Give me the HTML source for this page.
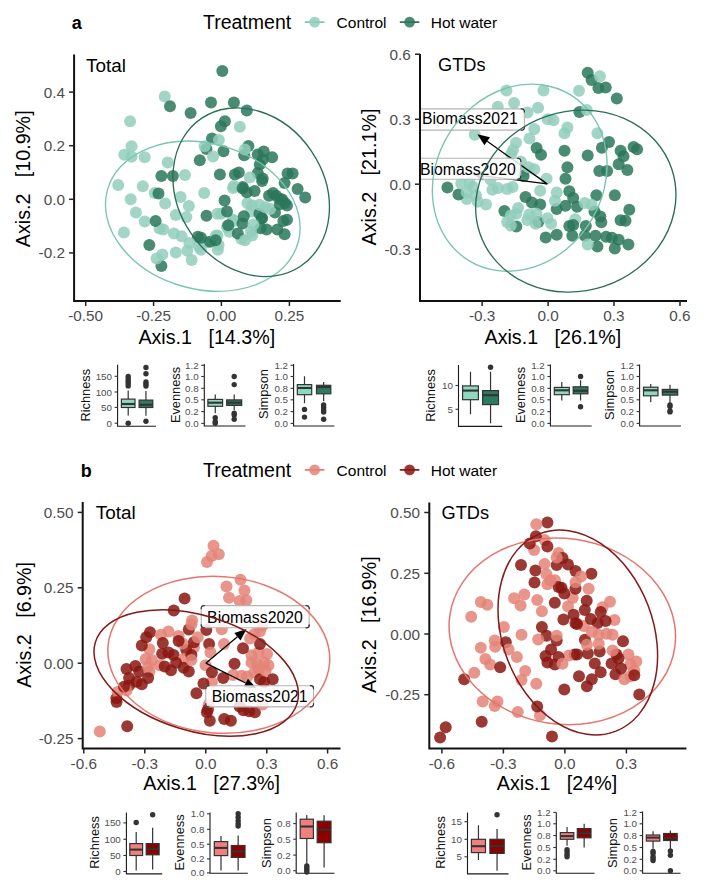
<!DOCTYPE html><html><head><meta charset="utf-8"><style>html,body{margin:0;padding:0;background:#fff;}svg{display:block;}</style></head><body><svg width="708" height="891" viewBox="0 0 708 891" font-family='"Liberation Sans", sans-serif'>
<rect width="708" height="891" fill="#fff"/>
<defs><clipPath id="c1"><rect x="75" y="40" width="266" height="260"/></clipPath><clipPath id="c2"><rect x="421" y="40" width="266" height="260"/></clipPath><clipPath id="c3"><rect x="84" y="490" width="257" height="257"/></clipPath><clipPath id="c4"><rect x="430" y="490" width="257" height="257"/></clipPath></defs>
<text x="71.8" y="29.0" font-size="18" text-anchor="start" fill="#000" font-weight="bold">a</text>
<text x="203.0" y="29.0" font-size="19.5" text-anchor="start" fill="#000" font-weight="normal">Treatment</text>
<path d="M304.8 22.1 H324.40000000000003" stroke="#78c6b0" stroke-width="1.7"/>
<circle cx="314.6" cy="22.1" r="5.4" fill="#92cebc" fill-opacity="0.85"/>
<path d="M399.8 22.1 H419.40000000000003" stroke="#2a6e57" stroke-width="1.7"/>
<circle cx="409.6" cy="22.1" r="5.4" fill="#2a775b" fill-opacity="0.85"/>
<text x="336.6" y="28.0" font-size="15.5" text-anchor="start" fill="#000" font-weight="normal">Control</text>
<text x="430.8" y="28.0" font-size="15.5" text-anchor="start" fill="#000" font-weight="normal">Hot water</text>
<text x="80.8" y="477.0" font-size="18" text-anchor="start" fill="#000" font-weight="bold">b</text>
<text x="203.0" y="476.8" font-size="19.5" text-anchor="start" fill="#000" font-weight="normal">Treatment</text>
<path d="M304.8 469.90000000000003 H324.40000000000003" stroke="#e6766d" stroke-width="1.7"/>
<circle cx="314.6" cy="469.90000000000003" r="5.4" fill="#e48478" fill-opacity="0.85"/>
<path d="M399.8 469.90000000000003 H419.40000000000003" stroke="#851818" stroke-width="1.7"/>
<circle cx="409.6" cy="469.90000000000003" r="5.4" fill="#8a1810" fill-opacity="0.85"/>
<text x="336.6" y="475.8" font-size="15.5" text-anchor="start" fill="#000" font-weight="normal">Control</text>
<text x="430.8" y="475.8" font-size="15.5" text-anchor="start" fill="#000" font-weight="normal">Hot water</text>
<g clip-path="url(#c1)">
<circle cx="275.0" cy="212.6" r="6.0" fill="#2a775b" fill-opacity="0.85"/>
<circle cx="154.7" cy="193" r="6.0" fill="#92cebc" fill-opacity="0.85"/>
<circle cx="124.3" cy="154.8" r="6.0" fill="#92cebc" fill-opacity="0.85"/>
<circle cx="158.5" cy="193.4" r="6.0" fill="#2a775b" fill-opacity="0.85"/>
<circle cx="161.4" cy="266" r="6.0" fill="#2a775b" fill-opacity="0.85"/>
<circle cx="252.2" cy="205.4" r="6.0" fill="#92cebc" fill-opacity="0.85"/>
<circle cx="233.0" cy="188.0" r="6.0" fill="#92cebc" fill-opacity="0.85"/>
<circle cx="282.2" cy="199.4" r="6.0" fill="#2a775b" fill-opacity="0.85"/>
<circle cx="262" cy="218" r="6.0" fill="#2a775b" fill-opacity="0.85"/>
<circle cx="144.7" cy="221.5" r="6.0" fill="#92cebc" fill-opacity="0.85"/>
<circle cx="206.5" cy="215.7" r="6.0" fill="#2a775b" fill-opacity="0.85"/>
<circle cx="259.8" cy="164.5" r="6.0" fill="#2a775b" fill-opacity="0.85"/>
<circle cx="252.2" cy="235.4" r="6.0" fill="#92cebc" fill-opacity="0.85"/>
<circle cx="234.2" cy="221.0" r="6.0" fill="#92cebc" fill-opacity="0.85"/>
<circle cx="164.7" cy="96.6" r="6.0" fill="#92cebc" fill-opacity="0.85"/>
<circle cx="217.4" cy="235.4" r="6.0" fill="#92cebc" fill-opacity="0.85"/>
<circle cx="248.4" cy="146" r="6.0" fill="#2a775b" fill-opacity="0.85"/>
<circle cx="257.8" cy="154.6" r="6.0" fill="#2a775b" fill-opacity="0.85"/>
<circle cx="118.2" cy="185" r="6.0" fill="#92cebc" fill-opacity="0.85"/>
<circle cx="161.4" cy="176" r="6.0" fill="#2a775b" fill-opacity="0.85"/>
<circle cx="241.4" cy="239.0" r="6.0" fill="#92cebc" fill-opacity="0.85"/>
<circle cx="217.9" cy="249.7" r="6.0" fill="#92cebc" fill-opacity="0.85"/>
<circle cx="130.1" cy="121.2" r="6.0" fill="#92cebc" fill-opacity="0.85"/>
<circle cx="218.6" cy="245.0" r="6.0" fill="#92cebc" fill-opacity="0.85"/>
<circle cx="175.8" cy="252.6" r="6.0" fill="#92cebc" fill-opacity="0.85"/>
<circle cx="287.6" cy="173.5" r="6.0" fill="#2a775b" fill-opacity="0.85"/>
<circle cx="206.5" cy="149" r="6.0" fill="#2a775b" fill-opacity="0.85"/>
<circle cx="212" cy="138.6" r="6.0" fill="#2a775b" fill-opacity="0.85"/>
<circle cx="261.8" cy="218.6" r="6.0" fill="#2a775b" fill-opacity="0.85"/>
<circle cx="234.9" cy="174.5" r="6.0" fill="#2a775b" fill-opacity="0.85"/>
<circle cx="251.0" cy="211.4" r="6.0" fill="#92cebc" fill-opacity="0.85"/>
<circle cx="173.9" cy="233.4" r="6.0" fill="#92cebc" fill-opacity="0.85"/>
<circle cx="223.5" cy="151.2" r="6.0" fill="#2a775b" fill-opacity="0.85"/>
<circle cx="135.9" cy="212.6" r="6.0" fill="#92cebc" fill-opacity="0.85"/>
<circle cx="201" cy="249.7" r="6.0" fill="#92cebc" fill-opacity="0.85"/>
<circle cx="188.9" cy="206.1" r="6.0" fill="#92cebc" fill-opacity="0.85"/>
<circle cx="162.4" cy="254.5" r="6.0" fill="#92cebc" fill-opacity="0.85"/>
<circle cx="244.2" cy="155.2" r="6.0" fill="#2a775b" fill-opacity="0.85"/>
<circle cx="131.6" cy="146.2" r="6.0" fill="#92cebc" fill-opacity="0.85"/>
<circle cx="233.0" cy="219.8" r="6.0" fill="#92cebc" fill-opacity="0.85"/>
<circle cx="262.7" cy="178.5" r="6.0" fill="#2a775b" fill-opacity="0.85"/>
<circle cx="239.8" cy="126.7" r="6.0" fill="#92cebc" fill-opacity="0.85"/>
<circle cx="270.2" cy="209.0" r="6.0" fill="#92cebc" fill-opacity="0.85"/>
<circle cx="218.9" cy="140" r="6.0" fill="#92cebc" fill-opacity="0.85"/>
<circle cx="262.7" cy="159.6" r="6.0" fill="#2a775b" fill-opacity="0.85"/>
<circle cx="206.5" cy="242" r="6.0" fill="#92cebc" fill-opacity="0.85"/>
<circle cx="210" cy="241.7" r="6.0" fill="#2a775b" fill-opacity="0.85"/>
<circle cx="279.8" cy="204.2" r="6.0" fill="#2a775b" fill-opacity="0.85"/>
<circle cx="283.4" cy="221.0" r="6.0" fill="#2a775b" fill-opacity="0.85"/>
<circle cx="292.6" cy="173.5" r="6.0" fill="#2a775b" fill-opacity="0.85"/>
<circle cx="149.3" cy="244.9" r="6.0" fill="#2a775b" fill-opacity="0.85"/>
<circle cx="199.8" cy="160.2" r="6.0" fill="#2a775b" fill-opacity="0.85"/>
<circle cx="204.2" cy="193" r="6.0" fill="#92cebc" fill-opacity="0.85"/>
<circle cx="219.9" cy="174.5" r="6.0" fill="#2a775b" fill-opacity="0.85"/>
<circle cx="198.9" cy="246.8" r="6.0" fill="#92cebc" fill-opacity="0.85"/>
<circle cx="180.6" cy="196.9" r="6.0" fill="#92cebc" fill-opacity="0.85"/>
<circle cx="156.6" cy="258.4" r="6.0" fill="#92cebc" fill-opacity="0.85"/>
<circle cx="197.9" cy="236.8" r="6.0" fill="#2a775b" fill-opacity="0.85"/>
<circle cx="257.8" cy="173.1" r="6.0" fill="#2a775b" fill-opacity="0.85"/>
<circle cx="221.0" cy="213.8" r="6.0" fill="#92cebc" fill-opacity="0.85"/>
<circle cx="247.4" cy="203.0" r="6.0" fill="#92cebc" fill-opacity="0.85"/>
<circle cx="259.4" cy="213.8" r="6.0" fill="#2a775b" fill-opacity="0.85"/>
<circle cx="262.1" cy="181" r="6.0" fill="#2a775b" fill-opacity="0.85"/>
<circle cx="189.3" cy="243" r="6.0" fill="#92cebc" fill-opacity="0.85"/>
<circle cx="285" cy="203" r="6.0" fill="#2a775b" fill-opacity="0.85"/>
<circle cx="266.6" cy="229.4" r="6.0" fill="#2a775b" fill-opacity="0.85"/>
<circle cx="229.4" cy="231.8" r="6.0" fill="#92cebc" fill-opacity="0.85"/>
<circle cx="227.0" cy="227.0" r="6.0" fill="#92cebc" fill-opacity="0.85"/>
<circle cx="215.9" cy="235.7" r="6.0" fill="#92cebc" fill-opacity="0.85"/>
<circle cx="243.8" cy="216.2" r="6.0" fill="#2a775b" fill-opacity="0.85"/>
<circle cx="237.8" cy="233.6" r="6.0" fill="#2a775b" fill-opacity="0.85"/>
<circle cx="170.0" cy="106.2" r="6.0" fill="#2a775b" fill-opacity="0.85"/>
<circle cx="159.5" cy="228.6" r="6.0" fill="#92cebc" fill-opacity="0.85"/>
<circle cx="297.6" cy="188.9" r="6.0" fill="#2a775b" fill-opacity="0.85"/>
<circle cx="254.6" cy="191.0" r="6.0" fill="#2a775b" fill-opacity="0.85"/>
<circle cx="269.0" cy="195.8" r="6.0" fill="#2a775b" fill-opacity="0.85"/>
<circle cx="242.6" cy="223.4" r="6.0" fill="#2a775b" fill-opacity="0.85"/>
<circle cx="260.6" cy="228.2" r="6.0" fill="#2a775b" fill-opacity="0.85"/>
<circle cx="265.4" cy="207.2" r="6.0" fill="#92cebc" fill-opacity="0.85"/>
<circle cx="186.4" cy="217.1" r="6.0" fill="#92cebc" fill-opacity="0.85"/>
<circle cx="238.8" cy="172.5" r="6.0" fill="#2a775b" fill-opacity="0.85"/>
<circle cx="242.8" cy="186.9" r="6.0" fill="#2a775b" fill-opacity="0.85"/>
<circle cx="249.8" cy="177.5" r="6.0" fill="#92cebc" fill-opacity="0.85"/>
<circle cx="175.8" cy="215.1" r="6.0" fill="#92cebc" fill-opacity="0.85"/>
<circle cx="155.6" cy="220.9" r="6.0" fill="#2a775b" fill-opacity="0.85"/>
<circle cx="233.9" cy="185.9" r="6.0" fill="#92cebc" fill-opacity="0.85"/>
<circle cx="284.6" cy="183" r="6.0" fill="#2a775b" fill-opacity="0.85"/>
<circle cx="224.6" cy="200.6" r="6.0" fill="#2a775b" fill-opacity="0.85"/>
<circle cx="222.3" cy="70.9" r="6.0" fill="#2a775b" fill-opacity="0.85"/>
<circle cx="215.6" cy="240.2" r="6.0" fill="#2a775b" fill-opacity="0.85"/>
<circle cx="276.2" cy="195.8" r="6.0" fill="#2a775b" fill-opacity="0.85"/>
<circle cx="191.6" cy="259.9" r="6.0" fill="#92cebc" fill-opacity="0.85"/>
<circle cx="130.7" cy="199.2" r="6.0" fill="#92cebc" fill-opacity="0.85"/>
<circle cx="233.9" cy="102.4" r="6.0" fill="#2a775b" fill-opacity="0.85"/>
<circle cx="144.7" cy="157.3" r="6.0" fill="#92cebc" fill-opacity="0.85"/>
<circle cx="242.6" cy="188.6" r="6.0" fill="#2a775b" fill-opacity="0.85"/>
<circle cx="167.7" cy="162.5" r="6.0" fill="#92cebc" fill-opacity="0.85"/>
<circle cx="217.4" cy="213.8" r="6.0" fill="#92cebc" fill-opacity="0.85"/>
<circle cx="280" cy="199" r="6.0" fill="#2a775b" fill-opacity="0.85"/>
<circle cx="224.9" cy="121.3" r="6.0" fill="#2a775b" fill-opacity="0.85"/>
<circle cx="227.0" cy="211.4" r="6.0" fill="#2a775b" fill-opacity="0.85"/>
<circle cx="284.6" cy="234.2" r="6.0" fill="#2a775b" fill-opacity="0.85"/>
<circle cx="201" cy="237.7" r="6.0" fill="#2a775b" fill-opacity="0.85"/>
<circle cx="263.7" cy="151.6" r="6.0" fill="#2a775b" fill-opacity="0.85"/>
<circle cx="123.9" cy="232.4" r="6.0" fill="#92cebc" fill-opacity="0.85"/>
<circle cx="142.8" cy="186.3" r="6.0" fill="#92cebc" fill-opacity="0.85"/>
<circle cx="246.8" cy="110.4" r="6.0" fill="#2a775b" fill-opacity="0.85"/>
<circle cx="228.2" cy="225.2" r="6.0" fill="#2a775b" fill-opacity="0.85"/>
<circle cx="277.4" cy="229.4" r="6.0" fill="#2a775b" fill-opacity="0.85"/>
<circle cx="251.0" cy="231.8" r="6.0" fill="#92cebc" fill-opacity="0.85"/>
<circle cx="211" cy="102.4" r="6.0" fill="#2a775b" fill-opacity="0.85"/>
<circle cx="287.0" cy="219.8" r="6.0" fill="#2a775b" fill-opacity="0.85"/>
<circle cx="181.6" cy="236.3" r="6.0" fill="#92cebc" fill-opacity="0.85"/>
<circle cx="185" cy="175" r="6.0" fill="#92cebc" fill-opacity="0.85"/>
<circle cx="253.4" cy="224.6" r="6.0" fill="#92cebc" fill-opacity="0.85"/>
<circle cx="245.0" cy="240.2" r="6.0" fill="#92cebc" fill-opacity="0.85"/>
<circle cx="213" cy="156.6" r="6.0" fill="#92cebc" fill-opacity="0.85"/>
<circle cx="131.6" cy="156.8" r="6.0" fill="#92cebc" fill-opacity="0.85"/>
<circle cx="163.3" cy="229.5" r="6.0" fill="#92cebc" fill-opacity="0.85"/>
<circle cx="190.6" cy="113.0" r="6.0" fill="#2a775b" fill-opacity="0.85"/>
<circle cx="287.0" cy="205.4" r="6.0" fill="#2a775b" fill-opacity="0.85"/>
<circle cx="204.6" cy="146.2" r="6.0" fill="#92cebc" fill-opacity="0.85"/>
<circle cx="220.9" cy="126.3" r="6.0" fill="#2a775b" fill-opacity="0.85"/>
<circle cx="259.4" cy="204.8" r="6.0" fill="#92cebc" fill-opacity="0.85"/>
<circle cx="273" cy="193" r="6.0" fill="#2a775b" fill-opacity="0.85"/>
<circle cx="172.9" cy="176" r="6.0" fill="#2a775b" fill-opacity="0.85"/>
<circle cx="246.8" cy="192.2" r="6.0" fill="#2a775b" fill-opacity="0.85"/>
<circle cx="165.2" cy="203.6" r="6.0" fill="#92cebc" fill-opacity="0.85"/>
<circle cx="244.8" cy="149.6" r="6.0" fill="#92cebc" fill-opacity="0.85"/>
<circle cx="305.2" cy="197.5" r="6.0" fill="#2a775b" fill-opacity="0.85"/>
<circle cx="187.3" cy="250.7" r="6.0" fill="#92cebc" fill-opacity="0.85"/>
<circle cx="272.1" cy="157.2" r="6.0" fill="#2a775b" fill-opacity="0.85"/>
</g>
<path d="M74.1 54.5 V301.0 H340.7" fill="none" stroke="#111" stroke-width="2.0"/>
<path d="M69.1 92.1 H74.1" stroke="#222" stroke-width="1.5"/>
<text x="64.89999999999999" y="97.61" font-size="15.3" text-anchor="end" fill="#4d4d4d" font-weight="normal">0.4</text>
<path d="M69.1 145.7 H74.1" stroke="#222" stroke-width="1.5"/>
<text x="64.89999999999999" y="151.21" font-size="15.3" text-anchor="end" fill="#4d4d4d" font-weight="normal">0.2</text>
<path d="M69.1 199.3 H74.1" stroke="#222" stroke-width="1.5"/>
<text x="64.89999999999999" y="204.81" font-size="15.3" text-anchor="end" fill="#4d4d4d" font-weight="normal">0.0</text>
<path d="M69.1 252.9 H74.1" stroke="#222" stroke-width="1.5"/>
<text x="64.89999999999999" y="258.41" font-size="15.3" text-anchor="end" fill="#4d4d4d" font-weight="normal">-0.2</text>
<path d="M85.7 301.0 V306.0" stroke="#222" stroke-width="1.5"/>
<text x="85.7" y="320.8" font-size="15.3" text-anchor="middle" fill="#4d4d4d" font-weight="normal">-0.50</text>
<path d="M153.6 301.0 V306.0" stroke="#222" stroke-width="1.5"/>
<text x="153.6" y="320.8" font-size="15.3" text-anchor="middle" fill="#4d4d4d" font-weight="normal">-0.25</text>
<path d="M221.4 301.0 V306.0" stroke="#222" stroke-width="1.5"/>
<text x="221.4" y="320.8" font-size="15.3" text-anchor="middle" fill="#4d4d4d" font-weight="normal">0.00</text>
<path d="M289.4 301.0 V306.0" stroke="#222" stroke-width="1.5"/>
<text x="289.4" y="320.8" font-size="15.3" text-anchor="middle" fill="#4d4d4d" font-weight="normal">0.25</text>
<text x="86.0" y="71.7" font-size="18.9" text-anchor="start" fill="#000" font-weight="normal">Total</text>
<text x="206.8" y="344.2" font-size="19.7" text-anchor="middle" fill="#000" font-weight="normal">Axis.1 &#160;&#160;[14.3%]</text>
<text x="29.7" y="178.8" font-size="19.7" text-anchor="middle" fill="#000" font-weight="normal" transform="rotate(-90 29.7 178.8)">Axis.2 &#160;&#160;[10.9%]</text>
<g clip-path="url(#c1)">
<ellipse cx="202.8" cy="216.2" rx="72.9" ry="98.9" transform="rotate(105.3 202.8 216.2)" fill="none" stroke="#78c6b0" stroke-width="1.35"/>
<ellipse cx="251.2" cy="192.2" rx="72.9" ry="89.0" transform="rotate(146.3 251.2 192.2)" fill="none" stroke="#2a6e57" stroke-width="1.35"/>
</g>
<g clip-path="url(#c2)">
<circle cx="579.4" cy="112" r="6.0" fill="#2a775b" fill-opacity="0.85"/>
<circle cx="504.4" cy="210.9" r="6.0" fill="#2a775b" fill-opacity="0.85"/>
<circle cx="573.2" cy="198.1" r="6.0" fill="#2a775b" fill-opacity="0.85"/>
<circle cx="597.4" cy="133.3" r="6.0" fill="#92cebc" fill-opacity="0.85"/>
<circle cx="605.7" cy="87.5" r="6.0" fill="#2a775b" fill-opacity="0.85"/>
<circle cx="584.8" cy="235.8" r="6.0" fill="#2a775b" fill-opacity="0.85"/>
<circle cx="541" cy="154.8" r="6.0" fill="#2a775b" fill-opacity="0.85"/>
<circle cx="597.4" cy="246.4" r="6.0" fill="#2a775b" fill-opacity="0.85"/>
<circle cx="506.4" cy="90.5" r="6.0" fill="#92cebc" fill-opacity="0.85"/>
<circle cx="534.3" cy="169.3" r="6.0" fill="#92cebc" fill-opacity="0.85"/>
<circle cx="556.7" cy="234.8" r="6.0" fill="#2a775b" fill-opacity="0.85"/>
<circle cx="536.6" cy="148.1" r="6.0" fill="#2a775b" fill-opacity="0.85"/>
<circle cx="527.3" cy="220.1" r="6.0" fill="#92cebc" fill-opacity="0.85"/>
<circle cx="575.2" cy="219.3" r="6.0" fill="#92cebc" fill-opacity="0.85"/>
<circle cx="523.6" cy="171.4" r="6.0" fill="#92cebc" fill-opacity="0.85"/>
<circle cx="573.2" cy="225.1" r="6.0" fill="#2a775b" fill-opacity="0.85"/>
<circle cx="520.8" cy="161.6" r="6.0" fill="#92cebc" fill-opacity="0.85"/>
<circle cx="611.9" cy="237.7" r="6.0" fill="#2a775b" fill-opacity="0.85"/>
<circle cx="523.6" cy="176.0" r="6.0" fill="#2a775b" fill-opacity="0.85"/>
<circle cx="596.4" cy="195.2" r="6.0" fill="#2a775b" fill-opacity="0.85"/>
<circle cx="594.5" cy="211.6" r="6.0" fill="#2a775b" fill-opacity="0.85"/>
<circle cx="540.2" cy="190.7" r="6.0" fill="#92cebc" fill-opacity="0.85"/>
<circle cx="599.3" cy="171.1" r="6.0" fill="#2a775b" fill-opacity="0.85"/>
<circle cx="514.1" cy="103" r="6.0" fill="#92cebc" fill-opacity="0.85"/>
<circle cx="512.6" cy="187.0" r="6.0" fill="#92cebc" fill-opacity="0.85"/>
<circle cx="543.5" cy="90.5" r="6.0" fill="#92cebc" fill-opacity="0.85"/>
<circle cx="591.6" cy="80.1" r="6.0" fill="#2a775b" fill-opacity="0.85"/>
<circle cx="516.3" cy="213.7" r="6.0" fill="#92cebc" fill-opacity="0.85"/>
<circle cx="492.4" cy="189.8" r="6.0" fill="#92cebc" fill-opacity="0.85"/>
<circle cx="598.4" cy="87.9" r="6.0" fill="#2a775b" fill-opacity="0.85"/>
<circle cx="564.5" cy="150.8" r="6.0" fill="#2a775b" fill-opacity="0.85"/>
<circle cx="516" cy="142.7" r="6.0" fill="#92cebc" fill-opacity="0.85"/>
<circle cx="587.7" cy="244.5" r="6.0" fill="#92cebc" fill-opacity="0.85"/>
<circle cx="466.7" cy="199.0" r="6.0" fill="#92cebc" fill-opacity="0.85"/>
<circle cx="538.3" cy="221.9" r="6.0" fill="#2a775b" fill-opacity="0.85"/>
<circle cx="628.4" cy="244.5" r="6.0" fill="#2a775b" fill-opacity="0.85"/>
<circle cx="625.5" cy="220.7" r="6.0" fill="#2a775b" fill-opacity="0.85"/>
<circle cx="569.3" cy="191.3" r="6.0" fill="#2a775b" fill-opacity="0.85"/>
<circle cx="564.5" cy="133.3" r="6.0" fill="#92cebc" fill-opacity="0.85"/>
<circle cx="587.7" cy="72.8" r="6.0" fill="#2a775b" fill-opacity="0.85"/>
<circle cx="477.7" cy="201.7" r="6.0" fill="#92cebc" fill-opacity="0.85"/>
<circle cx="510.8" cy="215.5" r="6.0" fill="#92cebc" fill-opacity="0.85"/>
<circle cx="616.8" cy="98.5" r="6.0" fill="#2a775b" fill-opacity="0.85"/>
<circle cx="565.5" cy="178.8" r="6.0" fill="#2a775b" fill-opacity="0.85"/>
<circle cx="601.9" cy="147.8" r="6.0" fill="#2a775b" fill-opacity="0.85"/>
<circle cx="518.1" cy="208.1" r="6.0" fill="#92cebc" fill-opacity="0.85"/>
<circle cx="572.3" cy="235.8" r="6.0" fill="#2a775b" fill-opacity="0.85"/>
<circle cx="585.8" cy="226.1" r="6.0" fill="#2a775b" fill-opacity="0.85"/>
<circle cx="545.7" cy="237.5" r="6.0" fill="#2a775b" fill-opacity="0.85"/>
<circle cx="531.9" cy="202.6" r="6.0" fill="#2a775b" fill-opacity="0.85"/>
<circle cx="535.6" cy="223.8" r="6.0" fill="#92cebc" fill-opacity="0.85"/>
<circle cx="577.1" cy="206.8" r="6.0" fill="#2a775b" fill-opacity="0.85"/>
<circle cx="473.1" cy="187.0" r="6.0" fill="#92cebc" fill-opacity="0.85"/>
<circle cx="567.4" cy="127.5" r="6.0" fill="#92cebc" fill-opacity="0.85"/>
<circle cx="507.1" cy="221.9" r="6.0" fill="#92cebc" fill-opacity="0.85"/>
<circle cx="614.8" cy="248.4" r="6.0" fill="#2a775b" fill-opacity="0.85"/>
<circle cx="486.0" cy="204.5" r="6.0" fill="#92cebc" fill-opacity="0.85"/>
<circle cx="556.7" cy="192.5" r="6.0" fill="#92cebc" fill-opacity="0.85"/>
<circle cx="475.9" cy="195.3" r="6.0" fill="#92cebc" fill-opacity="0.85"/>
<circle cx="587.7" cy="155.6" r="6.0" fill="#2a775b" fill-opacity="0.85"/>
<circle cx="607.1" cy="171.1" r="6.0" fill="#2a775b" fill-opacity="0.85"/>
<circle cx="497.8" cy="106.8" r="6.0" fill="#92cebc" fill-opacity="0.85"/>
<circle cx="497.9" cy="188.0" r="6.0" fill="#92cebc" fill-opacity="0.85"/>
<circle cx="595.5" cy="235.8" r="6.0" fill="#2a775b" fill-opacity="0.85"/>
<circle cx="540.2" cy="204.5" r="6.0" fill="#2a775b" fill-opacity="0.85"/>
<circle cx="536.5" cy="213.7" r="6.0" fill="#92cebc" fill-opacity="0.85"/>
<circle cx="591.6" cy="204.8" r="6.0" fill="#92cebc" fill-opacity="0.85"/>
<circle cx="511.2" cy="153.9" r="6.0" fill="#92cebc" fill-opacity="0.85"/>
<circle cx="584.8" cy="202.9" r="6.0" fill="#92cebc" fill-opacity="0.85"/>
<circle cx="490.6" cy="179.7" r="6.0" fill="#92cebc" fill-opacity="0.85"/>
<circle cx="620.6" cy="220.3" r="6.0" fill="#2a775b" fill-opacity="0.85"/>
<circle cx="623.5" cy="156.2" r="6.0" fill="#2a775b" fill-opacity="0.85"/>
<circle cx="579" cy="90.8" r="6.0" fill="#92cebc" fill-opacity="0.85"/>
<circle cx="606.1" cy="236.8" r="6.0" fill="#2a775b" fill-opacity="0.85"/>
<circle cx="507.1" cy="188.9" r="6.0" fill="#92cebc" fill-opacity="0.85"/>
<circle cx="599.9" cy="76.3" r="6.0" fill="#92cebc" fill-opacity="0.85"/>
<circle cx="637.1" cy="149.2" r="6.0" fill="#2a775b" fill-opacity="0.85"/>
<circle cx="538.1" cy="107.8" r="6.0" fill="#92cebc" fill-opacity="0.85"/>
<circle cx="601.3" cy="222.2" r="6.0" fill="#2a775b" fill-opacity="0.85"/>
<circle cx="516.3" cy="226.5" r="6.0" fill="#2a775b" fill-opacity="0.85"/>
<circle cx="556.7" cy="209.1" r="6.0" fill="#2a775b" fill-opacity="0.85"/>
<circle cx="629.3" cy="209.7" r="6.0" fill="#2a775b" fill-opacity="0.85"/>
<circle cx="618.7" cy="164.3" r="6.0" fill="#2a775b" fill-opacity="0.85"/>
<circle cx="569.3" cy="226.1" r="6.0" fill="#2a775b" fill-opacity="0.85"/>
<circle cx="458.5" cy="194.4" r="6.0" fill="#2a775b" fill-opacity="0.85"/>
<circle cx="600.3" cy="216.4" r="6.0" fill="#2a775b" fill-opacity="0.85"/>
<circle cx="565.5" cy="205.8" r="6.0" fill="#2a775b" fill-opacity="0.85"/>
<circle cx="469.5" cy="182.4" r="6.0" fill="#92cebc" fill-opacity="0.85"/>
<circle cx="528.5" cy="167.3" r="6.0" fill="#92cebc" fill-opacity="0.85"/>
<circle cx="567.4" cy="167.2" r="6.0" fill="#2a775b" fill-opacity="0.85"/>
<circle cx="447.4" cy="187.4" r="6.0" fill="#2a775b" fill-opacity="0.85"/>
<circle cx="551.2" cy="223.8" r="6.0" fill="#92cebc" fill-opacity="0.85"/>
<circle cx="633.6" cy="146.9" r="6.0" fill="#2a775b" fill-opacity="0.85"/>
<circle cx="618.7" cy="239.7" r="6.0" fill="#2a775b" fill-opacity="0.85"/>
<circle cx="466.7" cy="192.5" r="6.0" fill="#92cebc" fill-opacity="0.85"/>
<circle cx="534.3" cy="128.9" r="6.0" fill="#92cebc" fill-opacity="0.85"/>
<circle cx="547.5" cy="218.2" r="6.0" fill="#92cebc" fill-opacity="0.85"/>
<circle cx="554.9" cy="200.8" r="6.0" fill="#92cebc" fill-opacity="0.85"/>
<circle cx="474.7" cy="134.7" r="6.0" fill="#92cebc" fill-opacity="0.85"/>
<circle cx="527.5" cy="112.6" r="6.0" fill="#92cebc" fill-opacity="0.85"/>
<circle cx="461.2" cy="183.4" r="6.0" fill="#92cebc" fill-opacity="0.85"/>
<circle cx="609" cy="142" r="6.0" fill="#2a775b" fill-opacity="0.85"/>
<circle cx="553.5" cy="120.3" r="6.0" fill="#92cebc" fill-opacity="0.85"/>
<circle cx="627.4" cy="170.1" r="6.0" fill="#2a775b" fill-opacity="0.85"/>
<circle cx="529.2" cy="214.6" r="6.0" fill="#92cebc" fill-opacity="0.85"/>
<circle cx="513.1" cy="150" r="6.0" fill="#92cebc" fill-opacity="0.85"/>
<circle cx="620.6" cy="150.8" r="6.0" fill="#2a775b" fill-opacity="0.85"/>
<circle cx="525.5" cy="197.1" r="6.0" fill="#2a775b" fill-opacity="0.85"/>
<circle cx="529.5" cy="138.5" r="6.0" fill="#92cebc" fill-opacity="0.85"/>
<circle cx="547.7" cy="119.3" r="6.0" fill="#92cebc" fill-opacity="0.85"/>
<circle cx="614.8" cy="195.2" r="6.0" fill="#2a775b" fill-opacity="0.85"/>
<circle cx="510.8" cy="225.6" r="6.0" fill="#92cebc" fill-opacity="0.85"/>
<circle cx="586.8" cy="110.1" r="6.0" fill="#92cebc" fill-opacity="0.85"/>
<circle cx="546.6" cy="178.8" r="6.0" fill="#92cebc" fill-opacity="0.85"/>
</g>
<path d="M420.0 54.0 V300.9 H687.0" fill="none" stroke="#111" stroke-width="2.0"/>
<path d="M415.0 54.2 H420.0" stroke="#222" stroke-width="1.5"/>
<text x="410.8" y="59.71" font-size="15.3" text-anchor="end" fill="#4d4d4d" font-weight="normal">0.6</text>
<path d="M415.0 119.3 H420.0" stroke="#222" stroke-width="1.5"/>
<text x="410.8" y="124.81" font-size="15.3" text-anchor="end" fill="#4d4d4d" font-weight="normal">0.3</text>
<path d="M415.0 184.2 H420.0" stroke="#222" stroke-width="1.5"/>
<text x="410.8" y="189.71" font-size="15.3" text-anchor="end" fill="#4d4d4d" font-weight="normal">0.0</text>
<path d="M415.0 249.2 H420.0" stroke="#222" stroke-width="1.5"/>
<text x="410.8" y="254.71" font-size="15.3" text-anchor="end" fill="#4d4d4d" font-weight="normal">-0.3</text>
<path d="M482.1 300.9 V305.9" stroke="#222" stroke-width="1.5"/>
<text x="482.1" y="320.8" font-size="15.3" text-anchor="middle" fill="#4d4d4d" font-weight="normal">-0.3</text>
<path d="M548.1 300.9 V305.9" stroke="#222" stroke-width="1.5"/>
<text x="548.1" y="320.8" font-size="15.3" text-anchor="middle" fill="#4d4d4d" font-weight="normal">0.0</text>
<path d="M614.0 300.9 V305.9" stroke="#222" stroke-width="1.5"/>
<text x="614.0" y="320.8" font-size="15.3" text-anchor="middle" fill="#4d4d4d" font-weight="normal">0.3</text>
<path d="M680.0 300.9 V305.9" stroke="#222" stroke-width="1.5"/>
<text x="680.0" y="320.8" font-size="15.3" text-anchor="middle" fill="#4d4d4d" font-weight="normal">0.6</text>
<text x="438.0" y="71.4" font-size="18.2" text-anchor="start" fill="#000" font-weight="normal">GTDs</text>
<text x="552.9" y="344.4" font-size="19.7" text-anchor="middle" fill="#000" font-weight="normal">Axis.1 &#160;&#160;[26.1%]</text>
<text x="376.2" y="177.0" font-size="19.7" text-anchor="middle" fill="#000" font-weight="normal" transform="rotate(-90 376.2 177.0)">Axis.2 &#160;&#160;[21.1%]</text>
<path d="M547.2 183.9 L487.2 141.3" stroke="#000" stroke-width="1.3"/>
<path d="M477.4 134.3 L490.0 137.3 L484.4 145.2 Z" fill="#000"/>
<path d="M547.2 183.9 L483.9 175.8" stroke="#000" stroke-width="1.3"/>
<path d="M472.0 174.3 L484.5 171.1 L483.3 180.6 Z" fill="#000"/>
<g clip-path="url(#c2)">
<rect x="417" y="108.9" width="107.39999999999998" height="21.19999999999999" rx="2.6" fill="#fff" fill-opacity="0.85" stroke="#b4b4b4" stroke-width="1.1"/>
<path d="M417 112.5 V111.5 A2.6 2.6 0 0 1 419.6 108.9 H420.6 M520.8 108.9 H521.8 A2.6 2.6 0 0 1 524.4 111.5 V112.5 M524.4 126.5 V127.5 A2.6 2.6 0 0 1 521.8 130.1 H520.8 M420.6 130.1 H419.6 A2.6 2.6 0 0 1 417 127.5 V126.5" fill="none" stroke="#333" stroke-width="1.2"/>
<text x="422.0" y="123.9" font-size="15.8" text-anchor="start" fill="#000" font-weight="normal">Biomass2021</text>
<rect x="417" y="158.3" width="103.79999999999995" height="20.899999999999977" rx="2.6" fill="#fff" fill-opacity="0.85" stroke="#b4b4b4" stroke-width="1.1"/>
<path d="M417 161.9 V160.9 A2.6 2.6 0 0 1 419.6 158.3 H420.6 M517.1999999999999 158.3 H518.1999999999999 A2.6 2.6 0 0 1 520.8 160.9 V161.9 M520.8 175.6 V176.6 A2.6 2.6 0 0 1 518.1999999999999 179.2 H517.1999999999999 M420.6 179.2 H419.6 A2.6 2.6 0 0 1 417 176.6 V175.6" fill="none" stroke="#333" stroke-width="1.2"/>
<text x="420.0" y="175.2" font-size="15.8" text-anchor="start" fill="#000" font-weight="normal">Biomass2020</text>
</g>
<g clip-path="url(#c2)">
<ellipse cx="519.7" cy="177.7" rx="83.3" ry="97.2" transform="rotate(-148.2 519.7 177.7)" fill="none" stroke="#78c6b0" stroke-width="1.35"/>
<ellipse cx="575.8" cy="201.1" rx="89.8" ry="101.2" transform="rotate(71.8 575.8 201.1)" fill="none" stroke="#2a6e57" stroke-width="1.35"/>
</g>
<g clip-path="url(#c3)">
<circle cx="171.0" cy="670.3" r="6.0" fill="#8a1810" fill-opacity="0.85"/>
<circle cx="233.1" cy="675.1" r="6.0" fill="#e48478" fill-opacity="0.85"/>
<circle cx="209.8" cy="720.7" r="6.0" fill="#8a1810" fill-opacity="0.85"/>
<circle cx="251.5" cy="655.3" r="6.0" fill="#e48478" fill-opacity="0.85"/>
<circle cx="213.5" cy="545.8" r="6.0" fill="#e48478" fill-opacity="0.85"/>
<circle cx="139.2" cy="671.6" r="6.0" fill="#8a1810" fill-opacity="0.85"/>
<circle cx="209.1" cy="644.0" r="6.0" fill="#8a1810" fill-opacity="0.85"/>
<circle cx="173.6" cy="655.1" r="6.0" fill="#8a1810" fill-opacity="0.85"/>
<circle cx="193.9" cy="647.4" r="6.0" fill="#e48478" fill-opacity="0.85"/>
<circle cx="208.8" cy="704.5" r="6.0" fill="#e48478" fill-opacity="0.85"/>
<circle cx="206.9" cy="712.2" r="6.0" fill="#8a1810" fill-opacity="0.85"/>
<circle cx="150.0" cy="632.2" r="6.0" fill="#8a1810" fill-opacity="0.85"/>
<circle cx="162.1" cy="653.8" r="6.0" fill="#8a1810" fill-opacity="0.85"/>
<circle cx="267.0" cy="653.9" r="6.0" fill="#e48478" fill-opacity="0.85"/>
<circle cx="178.6" cy="636.0" r="6.0" fill="#e48478" fill-opacity="0.85"/>
<circle cx="257.1" cy="663.8" r="6.0" fill="#e48478" fill-opacity="0.85"/>
<circle cx="116.4" cy="698.3" r="6.0" fill="#8a1810" fill-opacity="0.85"/>
<circle cx="186.3" cy="650.0" r="6.0" fill="#8a1810" fill-opacity="0.85"/>
<circle cx="149.4" cy="671.6" r="6.0" fill="#e48478" fill-opacity="0.85"/>
<circle cx="211.6" cy="556.1" r="6.0" fill="#e48478" fill-opacity="0.85"/>
<circle cx="251.5" cy="662.4" r="6.0" fill="#e48478" fill-opacity="0.85"/>
<circle cx="159.6" cy="665.2" r="6.0" fill="#e48478" fill-opacity="0.85"/>
<circle cx="129.1" cy="685.6" r="6.0" fill="#8a1810" fill-opacity="0.85"/>
<circle cx="246.3" cy="600.3" r="6.0" fill="#e48478" fill-opacity="0.85"/>
<circle cx="136.7" cy="681.7" r="6.0" fill="#8a1810" fill-opacity="0.85"/>
<circle cx="264.2" cy="682.1" r="6.0" fill="#8a1810" fill-opacity="0.85"/>
<circle cx="210.5" cy="652.5" r="6.0" fill="#e48478" fill-opacity="0.85"/>
<circle cx="117.6" cy="691.9" r="6.0" fill="#e48478" fill-opacity="0.85"/>
<circle cx="207" cy="562" r="6.0" fill="#e48478" fill-opacity="0.85"/>
<circle cx="207.9" cy="709.5" r="6.0" fill="#8a1810" fill-opacity="0.85"/>
<circle cx="141.8" cy="684.3" r="6.0" fill="#8a1810" fill-opacity="0.85"/>
<circle cx="188.8" cy="629.6" r="6.0" fill="#8a1810" fill-opacity="0.85"/>
<circle cx="260.0" cy="631.3" r="6.0" fill="#e48478" fill-opacity="0.85"/>
<circle cx="183.7" cy="658.9" r="6.0" fill="#e48478" fill-opacity="0.85"/>
<circle cx="241.6" cy="675.8" r="6.0" fill="#e48478" fill-opacity="0.85"/>
<circle cx="224.2" cy="718.9" r="6.0" fill="#8a1810" fill-opacity="0.85"/>
<circle cx="234.5" cy="663.8" r="6.0" fill="#8a1810" fill-opacity="0.85"/>
<circle cx="126.5" cy="690.6" r="6.0" fill="#e48478" fill-opacity="0.85"/>
<circle cx="168.5" cy="652.5" r="6.0" fill="#8a1810" fill-opacity="0.85"/>
<circle cx="206.3" cy="629.9" r="6.0" fill="#8a1810" fill-opacity="0.85"/>
<circle cx="196.4" cy="693.2" r="6.0" fill="#8a1810" fill-opacity="0.85"/>
<circle cx="127.2" cy="726.3" r="6.0" fill="#8a1810" fill-opacity="0.85"/>
<circle cx="145.6" cy="658.9" r="6.0" fill="#e48478" fill-opacity="0.85"/>
<circle cx="243.4" cy="710.3" r="6.0" fill="#8a1810" fill-opacity="0.85"/>
<circle cx="258.6" cy="669.4" r="6.0" fill="#e48478" fill-opacity="0.85"/>
<circle cx="254.3" cy="634.1" r="6.0" fill="#e48478" fill-opacity="0.85"/>
<circle cx="188.8" cy="671.6" r="6.0" fill="#8a1810" fill-opacity="0.85"/>
<circle cx="247.3" cy="676.5" r="6.0" fill="#e48478" fill-opacity="0.85"/>
<circle cx="149.4" cy="649.3" r="6.0" fill="#e48478" fill-opacity="0.85"/>
<circle cx="254.3" cy="672.3" r="6.0" fill="#e48478" fill-opacity="0.85"/>
<circle cx="254.9" cy="712.2" r="6.0" fill="#8a1810" fill-opacity="0.85"/>
<circle cx="239.6" cy="706.4" r="6.0" fill="#8a1810" fill-opacity="0.85"/>
<circle cx="192.1" cy="620.4" r="6.0" fill="#e48478" fill-opacity="0.85"/>
<circle cx="230.9" cy="720.8" r="6.0" fill="#8a1810" fill-opacity="0.85"/>
<circle cx="183.7" cy="667.8" r="6.0" fill="#8a1810" fill-opacity="0.85"/>
<circle cx="151.9" cy="660.1" r="6.0" fill="#e48478" fill-opacity="0.85"/>
<circle cx="211.9" cy="682.1" r="6.0" fill="#e48478" fill-opacity="0.85"/>
<circle cx="203.5" cy="683.6" r="6.0" fill="#8a1810" fill-opacity="0.85"/>
<circle cx="191.4" cy="655.1" r="6.0" fill="#8a1810" fill-opacity="0.85"/>
<circle cx="129.1" cy="677.9" r="6.0" fill="#8a1810" fill-opacity="0.85"/>
<circle cx="191.4" cy="624.5" r="6.0" fill="#e48478" fill-opacity="0.85"/>
<circle cx="160.8" cy="634.7" r="6.0" fill="#e48478" fill-opacity="0.85"/>
<circle cx="243.0" cy="648.2" r="6.0" fill="#8a1810" fill-opacity="0.85"/>
<circle cx="262.6" cy="704.5" r="6.0" fill="#e48478" fill-opacity="0.85"/>
<circle cx="258.6" cy="652.5" r="6.0" fill="#e48478" fill-opacity="0.85"/>
<circle cx="182.5" cy="643.6" r="6.0" fill="#e48478" fill-opacity="0.85"/>
<circle cx="162.8" cy="643.0" r="6.0" fill="#8a1810" fill-opacity="0.85"/>
<circle cx="205.6" cy="665.2" r="6.0" fill="#e48478" fill-opacity="0.85"/>
<circle cx="176.1" cy="662.7" r="6.0" fill="#8a1810" fill-opacity="0.85"/>
<circle cx="168.5" cy="631.5" r="6.0" fill="#e48478" fill-opacity="0.85"/>
<circle cx="224.0" cy="644.0" r="6.0" fill="#e48478" fill-opacity="0.85"/>
<circle cx="240.5" cy="579.8" r="6.0" fill="#e48478" fill-opacity="0.85"/>
<circle cx="141.8" cy="645.5" r="6.0" fill="#8a1810" fill-opacity="0.85"/>
<circle cx="148.1" cy="677.9" r="6.0" fill="#8a1810" fill-opacity="0.85"/>
<circle cx="124.0" cy="686.8" r="6.0" fill="#8a1810" fill-opacity="0.85"/>
<circle cx="146.2" cy="637.3" r="6.0" fill="#8a1810" fill-opacity="0.85"/>
<circle cx="260.0" cy="679.3" r="6.0" fill="#8a1810" fill-opacity="0.85"/>
<circle cx="193.9" cy="642.3" r="6.0" fill="#8a1810" fill-opacity="0.85"/>
<circle cx="135.4" cy="665.9" r="6.0" fill="#8a1810" fill-opacity="0.85"/>
<circle cx="268.4" cy="665.2" r="6.0" fill="#e48478" fill-opacity="0.85"/>
<circle cx="221.8" cy="629.2" r="6.0" fill="#e48478" fill-opacity="0.85"/>
<circle cx="223.2" cy="677.9" r="6.0" fill="#8a1810" fill-opacity="0.85"/>
<circle cx="126.5" cy="669.0" r="6.0" fill="#8a1810" fill-opacity="0.85"/>
<circle cx="173.8" cy="610.5" r="6.0" fill="#8a1810" fill-opacity="0.85"/>
<circle cx="260.0" cy="644.0" r="6.0" fill="#8a1810" fill-opacity="0.85"/>
<circle cx="164.7" cy="666.5" r="6.0" fill="#8a1810" fill-opacity="0.85"/>
<circle cx="265.6" cy="670.8" r="6.0" fill="#e48478" fill-opacity="0.85"/>
<circle cx="229" cy="597.7" r="6.0" fill="#e48478" fill-opacity="0.85"/>
<circle cx="184.6" cy="598.6" r="6.0" fill="#8a1810" fill-opacity="0.85"/>
<circle cx="116.6" cy="702" r="6.0" fill="#8a1810" fill-opacity="0.85"/>
<circle cx="99.8" cy="731.5" r="6.0" fill="#e48478" fill-opacity="0.85"/>
<circle cx="218.8" cy="554.2" r="6.0" fill="#e48478" fill-opacity="0.85"/>
<circle cx="264.2" cy="662.4" r="6.0" fill="#e48478" fill-opacity="0.85"/>
<circle cx="249.2" cy="711.2" r="6.0" fill="#8a1810" fill-opacity="0.85"/>
<circle cx="244.4" cy="590.4" r="6.0" fill="#e48478" fill-opacity="0.85"/>
<circle cx="272.7" cy="679.3" r="6.0" fill="#8a1810" fill-opacity="0.85"/>
<circle cx="148.1" cy="666.5" r="6.0" fill="#e48478" fill-opacity="0.85"/>
<circle cx="262.6" cy="625.8" r="6.0" fill="#e48478" fill-opacity="0.85"/>
<circle cx="211.9" cy="672.3" r="6.0" fill="#8a1810" fill-opacity="0.85"/>
<circle cx="239.6" cy="600.9" r="6.0" fill="#e48478" fill-opacity="0.85"/>
<circle cx="226.5" cy="586.5" r="6.0" fill="#e48478" fill-opacity="0.85"/>
<circle cx="178.6" cy="641.1" r="6.0" fill="#8a1810" fill-opacity="0.85"/>
<circle cx="191.4" cy="660.1" r="6.0" fill="#e48478" fill-opacity="0.85"/>
<circle cx="250.1" cy="638.4" r="6.0" fill="#e48478" fill-opacity="0.85"/>
<circle cx="197.7" cy="637.3" r="6.0" fill="#e48478" fill-opacity="0.85"/>
</g>
<path d="M82.7 502.0 V748.5 H340.5" fill="none" stroke="#111" stroke-width="2.0"/>
<path d="M77.7 512.4 H82.7" stroke="#222" stroke-width="1.5"/>
<text x="73.5" y="517.91" font-size="15.3" text-anchor="end" fill="#4d4d4d" font-weight="normal">0.50</text>
<path d="M77.7 587.8 H82.7" stroke="#222" stroke-width="1.5"/>
<text x="73.5" y="593.31" font-size="15.3" text-anchor="end" fill="#4d4d4d" font-weight="normal">0.25</text>
<path d="M77.7 663.2 H82.7" stroke="#222" stroke-width="1.5"/>
<text x="73.5" y="668.71" font-size="15.3" text-anchor="end" fill="#4d4d4d" font-weight="normal">0.00</text>
<path d="M77.7 738.6 H82.7" stroke="#222" stroke-width="1.5"/>
<text x="73.5" y="744.11" font-size="15.3" text-anchor="end" fill="#4d4d4d" font-weight="normal">-0.25</text>
<path d="M83.8 748.5 V753.5" stroke="#222" stroke-width="1.5"/>
<text x="83.8" y="768.5" font-size="15.3" text-anchor="middle" fill="#4d4d4d" font-weight="normal">-0.6</text>
<path d="M144.8 748.5 V753.5" stroke="#222" stroke-width="1.5"/>
<text x="144.8" y="768.5" font-size="15.3" text-anchor="middle" fill="#4d4d4d" font-weight="normal">-0.3</text>
<path d="M205.8 748.5 V753.5" stroke="#222" stroke-width="1.5"/>
<text x="205.8" y="768.5" font-size="15.3" text-anchor="middle" fill="#4d4d4d" font-weight="normal">0.0</text>
<path d="M266.8 748.5 V753.5" stroke="#222" stroke-width="1.5"/>
<text x="266.8" y="768.5" font-size="15.3" text-anchor="middle" fill="#4d4d4d" font-weight="normal">0.3</text>
<path d="M327.6 748.5 V753.5" stroke="#222" stroke-width="1.5"/>
<text x="327.6" y="768.5" font-size="15.3" text-anchor="middle" fill="#4d4d4d" font-weight="normal">0.6</text>
<text x="95.8" y="519.2" font-size="18.9" text-anchor="start" fill="#000" font-weight="normal">Total</text>
<text x="211.7" y="790.0" font-size="19.7" text-anchor="middle" fill="#000" font-weight="normal">Axis.1 &#160;&#160;[27.3%]</text>
<text x="30.6" y="624.9" font-size="19.7" text-anchor="middle" fill="#000" font-weight="normal" transform="rotate(-90 30.6 624.9)">Axis.2 &#160;&#160;[6.9%]</text>
<path d="M205.8 663.2 L237.4 636.7" stroke="#000" stroke-width="1.3"/>
<path d="M246.6 629.0 L240.5 640.4 L234.3 633.0 Z" fill="#000"/>
<path d="M205.8 663.2 L245.7 683.0" stroke="#000" stroke-width="1.3"/>
<path d="M256.5 688.3 L243.6 687.3 L247.9 678.7 Z" fill="#000"/>
<rect x="201.2" y="605.6" width="108.0" height="22.199999999999932" rx="2.6" fill="#fff" fill-opacity="0.85" stroke="#b4b4b4" stroke-width="1.1"/>
<path d="M201.2 609.2 V608.2 A2.6 2.6 0 0 1 203.79999999999998 605.6 H204.79999999999998 M305.59999999999997 605.6 H306.59999999999997 A2.6 2.6 0 0 1 309.2 608.2 V609.2 M309.2 624.1999999999999 V625.1999999999999 A2.6 2.6 0 0 1 306.59999999999997 627.8 H305.59999999999997 M204.79999999999998 627.8 H203.79999999999998 A2.6 2.6 0 0 1 201.2 625.1999999999999 V624.1999999999999" fill="none" stroke="#333" stroke-width="1.2"/>
<text x="207.1" y="623.0" font-size="15.8" text-anchor="start" fill="#000" font-weight="normal">Biomass2020</text>
<rect x="205.8" y="685.7" width="107.69999999999999" height="21.199999999999932" rx="2.6" fill="#fff" fill-opacity="0.85" stroke="#b4b4b4" stroke-width="1.1"/>
<path d="M205.8 689.3000000000001 V688.3000000000001 A2.6 2.6 0 0 1 208.4 685.7 H209.4 M309.9 685.7 H310.9 A2.6 2.6 0 0 1 313.5 688.3000000000001 V689.3000000000001 M313.5 703.3 V704.3 A2.6 2.6 0 0 1 310.9 706.9 H309.9 M209.4 706.9 H208.4 A2.6 2.6 0 0 1 205.8 704.3 V703.3" fill="none" stroke="#333" stroke-width="1.2"/>
<text x="211.8" y="702.0" font-size="15.8" text-anchor="start" fill="#000" font-weight="normal">Biomass2021</text>
<g clip-path="url(#c3)">
<ellipse cx="218.8" cy="654.8" rx="78.3" ry="111.1" transform="rotate(94.2 218.8 654.8)" fill="none" stroke="#e6766d" stroke-width="1.5"/>
<ellipse cx="196.2" cy="673.0" rx="57.7" ry="105.4" transform="rotate(106.9 196.2 673.0)" fill="none" stroke="#851818" stroke-width="1.5"/>
</g>
<g clip-path="url(#c4)">
<circle cx="490.1" cy="664.4" r="6.0" fill="#e48478" fill-opacity="0.85"/>
<circle cx="602.5" cy="607.3" r="6.0" fill="#e48478" fill-opacity="0.85"/>
<circle cx="545.6" cy="656.1" r="6.0" fill="#8a1810" fill-opacity="0.85"/>
<circle cx="547.4" cy="522.4" r="6.0" fill="#8a1810" fill-opacity="0.85"/>
<circle cx="558.5" cy="552.9" r="6.0" fill="#e48478" fill-opacity="0.85"/>
<circle cx="574.6" cy="654.5" r="6.0" fill="#8a1810" fill-opacity="0.85"/>
<circle cx="599.7" cy="651.6" r="6.0" fill="#8a1810" fill-opacity="0.85"/>
<circle cx="587.9" cy="653.6" r="6.0" fill="#8a1810" fill-opacity="0.85"/>
<circle cx="471.2" cy="616.7" r="6.0" fill="#e48478" fill-opacity="0.85"/>
<circle cx="586.9" cy="686.2" r="6.0" fill="#8a1810" fill-opacity="0.85"/>
<circle cx="536.3" cy="524.2" r="6.0" fill="#e48478" fill-opacity="0.85"/>
<circle cx="606.6" cy="633.8" r="6.0" fill="#e48478" fill-opacity="0.85"/>
<circle cx="639.3" cy="694.6" r="6.0" fill="#8a1810" fill-opacity="0.85"/>
<circle cx="505.8" cy="642.2" r="6.0" fill="#8a1810" fill-opacity="0.85"/>
<circle cx="569" cy="655.4" r="6.0" fill="#e48478" fill-opacity="0.85"/>
<circle cx="563.4" cy="619.5" r="6.0" fill="#8a1810" fill-opacity="0.85"/>
<circle cx="445.7" cy="727.3" r="6.0" fill="#8a1810" fill-opacity="0.85"/>
<circle cx="628.4" cy="654.5" r="6.0" fill="#e48478" fill-opacity="0.85"/>
<circle cx="544.6" cy="539.9" r="6.0" fill="#e48478" fill-opacity="0.85"/>
<circle cx="630.4" cy="676.3" r="6.0" fill="#e48478" fill-opacity="0.85"/>
<circle cx="485.4" cy="658.9" r="6.0" fill="#e48478" fill-opacity="0.85"/>
<circle cx="500.2" cy="667.2" r="6.0" fill="#8a1810" fill-opacity="0.85"/>
<circle cx="634.3" cy="670.4" r="6.0" fill="#e48478" fill-opacity="0.85"/>
<circle cx="583.9" cy="625.9" r="6.0" fill="#e48478" fill-opacity="0.85"/>
<circle cx="480.8" cy="601.9" r="6.0" fill="#e48478" fill-opacity="0.85"/>
<circle cx="547.4" cy="546.4" r="6.0" fill="#8a1810" fill-opacity="0.85"/>
<circle cx="612.6" cy="634.8" r="6.0" fill="#e48478" fill-opacity="0.85"/>
<circle cx="584.8" cy="610.1" r="6.0" fill="#8a1810" fill-opacity="0.85"/>
<circle cx="597.7" cy="622.9" r="6.0" fill="#8a1810" fill-opacity="0.85"/>
<circle cx="555" cy="580.3" r="6.0" fill="#e48478" fill-opacity="0.85"/>
<circle cx="517.8" cy="712.1" r="6.0" fill="#e48478" fill-opacity="0.85"/>
<circle cx="588.6" cy="588.7" r="6.0" fill="#e48478" fill-opacity="0.85"/>
<circle cx="494.7" cy="706" r="6.0" fill="#e48478" fill-opacity="0.85"/>
<circle cx="534.1" cy="550.1" r="6.0" fill="#e48478" fill-opacity="0.85"/>
<circle cx="561.5" cy="587.8" r="6.0" fill="#8a1810" fill-opacity="0.85"/>
<circle cx="591.4" cy="573.8" r="6.0" fill="#8a1810" fill-opacity="0.85"/>
<circle cx="615.5" cy="674.3" r="6.0" fill="#8a1810" fill-opacity="0.85"/>
<circle cx="616.5" cy="654.5" r="6.0" fill="#8a1810" fill-opacity="0.85"/>
<circle cx="524.3" cy="594.5" r="6.0" fill="#e48478" fill-opacity="0.85"/>
<circle cx="521" cy="564.9" r="6.0" fill="#8a1810" fill-opacity="0.85"/>
<circle cx="480.8" cy="647.8" r="6.0" fill="#e48478" fill-opacity="0.85"/>
<circle cx="611.6" cy="663.4" r="6.0" fill="#8a1810" fill-opacity="0.85"/>
<circle cx="584.9" cy="639.7" r="6.0" fill="#8a1810" fill-opacity="0.85"/>
<circle cx="536.3" cy="683.8" r="6.0" fill="#e48478" fill-opacity="0.85"/>
<circle cx="600.7" cy="612" r="6.0" fill="#8a1810" fill-opacity="0.85"/>
<circle cx="556.7" cy="640.4" r="6.0" fill="#8a1810" fill-opacity="0.85"/>
<circle cx="572.7" cy="598" r="6.0" fill="#e48478" fill-opacity="0.85"/>
<circle cx="508.6" cy="649.6" r="6.0" fill="#e48478" fill-opacity="0.85"/>
<circle cx="516.9" cy="657" r="6.0" fill="#e48478" fill-opacity="0.85"/>
<circle cx="630.4" cy="664.4" r="6.0" fill="#e48478" fill-opacity="0.85"/>
<circle cx="525.2" cy="670.9" r="6.0" fill="#e48478" fill-opacity="0.85"/>
<circle cx="546.5" cy="635.7" r="6.0" fill="#8a1810" fill-opacity="0.85"/>
<circle cx="636.3" cy="661.5" r="6.0" fill="#e48478" fill-opacity="0.85"/>
<circle cx="591.8" cy="631.8" r="6.0" fill="#e48478" fill-opacity="0.85"/>
<circle cx="540" cy="715.3" r="6.0" fill="#e48478" fill-opacity="0.85"/>
<circle cx="564.3" cy="689.4" r="6.0" fill="#8a1810" fill-opacity="0.85"/>
<circle cx="551.1" cy="649.6" r="6.0" fill="#8a1810" fill-opacity="0.85"/>
<circle cx="575.5" cy="588.7" r="6.0" fill="#8a1810" fill-opacity="0.85"/>
<circle cx="591.8" cy="679.3" r="6.0" fill="#8a1810" fill-opacity="0.85"/>
<circle cx="575.5" cy="571" r="6.0" fill="#8a1810" fill-opacity="0.85"/>
<circle cx="494.7" cy="640.4" r="6.0" fill="#e48478" fill-opacity="0.85"/>
<circle cx="556.7" cy="564.9" r="6.0" fill="#8a1810" fill-opacity="0.85"/>
<circle cx="594.8" cy="663.4" r="6.0" fill="#8a1810" fill-opacity="0.85"/>
<circle cx="624.4" cy="679.3" r="6.0" fill="#e48478" fill-opacity="0.85"/>
<circle cx="482.7" cy="701.4" r="6.0" fill="#e48478" fill-opacity="0.85"/>
<circle cx="552" cy="736.6" r="6.0" fill="#8a1810" fill-opacity="0.85"/>
<circle cx="535.9" cy="536.2" r="6.0" fill="#8a1810" fill-opacity="0.85"/>
<circle cx="521.5" cy="634.8" r="6.0" fill="#e48478" fill-opacity="0.85"/>
<circle cx="554.8" cy="664.4" r="6.0" fill="#8a1810" fill-opacity="0.85"/>
<circle cx="577.0" cy="623.9" r="6.0" fill="#8a1810" fill-opacity="0.85"/>
<circle cx="618.5" cy="658.5" r="6.0" fill="#8a1810" fill-opacity="0.85"/>
<circle cx="614.5" cy="619.9" r="6.0" fill="#e48478" fill-opacity="0.85"/>
<circle cx="610" cy="601.7" r="6.0" fill="#e48478" fill-opacity="0.85"/>
<circle cx="564.3" cy="593.4" r="6.0" fill="#8a1810" fill-opacity="0.85"/>
<circle cx="541.9" cy="611.2" r="6.0" fill="#e48478" fill-opacity="0.85"/>
<circle cx="568" cy="606.4" r="6.0" fill="#e48478" fill-opacity="0.85"/>
<circle cx="575.5" cy="623.2" r="6.0" fill="#8a1810" fill-opacity="0.85"/>
<circle cx="474.3" cy="672.7" r="6.0" fill="#e48478" fill-opacity="0.85"/>
<circle cx="547.4" cy="662.6" r="6.0" fill="#8a1810" fill-opacity="0.85"/>
<circle cx="481.7" cy="721.8" r="6.0" fill="#8a1810" fill-opacity="0.85"/>
<circle cx="534.5" cy="582.5" r="6.0" fill="#8a1810" fill-opacity="0.85"/>
<circle cx="581.1" cy="576.6" r="6.0" fill="#e48478" fill-opacity="0.85"/>
<circle cx="621.0" cy="668.4" r="6.0" fill="#8a1810" fill-opacity="0.85"/>
<circle cx="521.5" cy="680.1" r="6.0" fill="#e48478" fill-opacity="0.85"/>
<circle cx="503.9" cy="626.9" r="6.0" fill="#e48478" fill-opacity="0.85"/>
<circle cx="554.8" cy="602.8" r="6.0" fill="#8a1810" fill-opacity="0.85"/>
<circle cx="544.6" cy="564" r="6.0" fill="#e48478" fill-opacity="0.85"/>
<circle cx="537.2" cy="706.6" r="6.0" fill="#8a1810" fill-opacity="0.85"/>
<circle cx="634.3" cy="675.3" r="6.0" fill="#8a1810" fill-opacity="0.85"/>
<circle cx="600.7" cy="672.3" r="6.0" fill="#8a1810" fill-opacity="0.85"/>
<circle cx="558.5" cy="657" r="6.0" fill="#8a1810" fill-opacity="0.85"/>
<circle cx="562.5" cy="557.9" r="6.0" fill="#8a1810" fill-opacity="0.85"/>
<circle cx="440.1" cy="737.5" r="6.0" fill="#8a1810" fill-opacity="0.85"/>
<circle cx="577.0" cy="654.5" r="6.0" fill="#8a1810" fill-opacity="0.85"/>
<circle cx="464.2" cy="679.2" r="6.0" fill="#8a1810" fill-opacity="0.85"/>
<circle cx="586.7" cy="600.8" r="6.0" fill="#8a1810" fill-opacity="0.85"/>
<circle cx="556.7" cy="635.7" r="6.0" fill="#e48478" fill-opacity="0.85"/>
<circle cx="487.3" cy="604.7" r="6.0" fill="#e48478" fill-opacity="0.85"/>
<circle cx="541.9" cy="626.9" r="6.0" fill="#8a1810" fill-opacity="0.85"/>
<circle cx="623.0" cy="641.2" r="6.0" fill="#8a1810" fill-opacity="0.85"/>
<circle cx="598.7" cy="643.7" r="6.0" fill="#e48478" fill-opacity="0.85"/>
<circle cx="558.5" cy="587.1" r="6.0" fill="#8a1810" fill-opacity="0.85"/>
<circle cx="605.6" cy="620.9" r="6.0" fill="#8a1810" fill-opacity="0.85"/>
<circle cx="495.2" cy="646.8" r="6.0" fill="#e48478" fill-opacity="0.85"/>
<circle cx="547.4" cy="584.3" r="6.0" fill="#e48478" fill-opacity="0.85"/>
<circle cx="586.9" cy="644.7" r="6.0" fill="#e48478" fill-opacity="0.85"/>
<circle cx="612.6" cy="650.6" r="6.0" fill="#e48478" fill-opacity="0.85"/>
<circle cx="520.6" cy="605.6" r="6.0" fill="#e48478" fill-opacity="0.85"/>
<circle cx="556.7" cy="557.5" r="6.0" fill="#e48478" fill-opacity="0.85"/>
<circle cx="538.2" cy="639.4" r="6.0" fill="#e48478" fill-opacity="0.85"/>
<circle cx="529.8" cy="543.6" r="6.0" fill="#8a1810" fill-opacity="0.85"/>
<circle cx="550.2" cy="580.6" r="6.0" fill="#e48478" fill-opacity="0.85"/>
<circle cx="568" cy="564.5" r="6.0" fill="#8a1810" fill-opacity="0.85"/>
<circle cx="562.5" cy="663.8" r="6.0" fill="#e48478" fill-opacity="0.85"/>
<circle cx="537.2" cy="600.1" r="6.0" fill="#e48478" fill-opacity="0.85"/>
<circle cx="535.4" cy="570.5" r="6.0" fill="#8a1810" fill-opacity="0.85"/>
<circle cx="590.8" cy="619.0" r="6.0" fill="#8a1810" fill-opacity="0.85"/>
<circle cx="514.1" cy="598.2" r="6.0" fill="#e48478" fill-opacity="0.85"/>
<circle cx="546.5" cy="574.2" r="6.0" fill="#e48478" fill-opacity="0.85"/>
<circle cx="573.6" cy="614.8" r="6.0" fill="#8a1810" fill-opacity="0.85"/>
<circle cx="598.7" cy="634.8" r="6.0" fill="#e48478" fill-opacity="0.85"/>
<circle cx="575.5" cy="582.2" r="6.0" fill="#e48478" fill-opacity="0.85"/>
<circle cx="579.0" cy="676.3" r="6.0" fill="#8a1810" fill-opacity="0.85"/>
<circle cx="497.5" cy="701.4" r="6.0" fill="#e48478" fill-opacity="0.85"/>
</g>
<path d="M429.3 502.5 V748.5 H686.4" fill="none" stroke="#111" stroke-width="2.0"/>
<path d="M424.3 512.5 H429.3" stroke="#222" stroke-width="1.5"/>
<text x="420.1" y="518.01" font-size="15.3" text-anchor="end" fill="#4d4d4d" font-weight="normal">0.50</text>
<path d="M424.3 573.3 H429.3" stroke="#222" stroke-width="1.5"/>
<text x="420.1" y="578.81" font-size="15.3" text-anchor="end" fill="#4d4d4d" font-weight="normal">0.25</text>
<path d="M424.3 634.0 H429.3" stroke="#222" stroke-width="1.5"/>
<text x="420.1" y="639.51" font-size="15.3" text-anchor="end" fill="#4d4d4d" font-weight="normal">0.00</text>
<path d="M424.3 694.7 H429.3" stroke="#222" stroke-width="1.5"/>
<text x="420.1" y="700.21" font-size="15.3" text-anchor="end" fill="#4d4d4d" font-weight="normal">-0.25</text>
<path d="M441.9 748.5 V753.5" stroke="#222" stroke-width="1.5"/>
<text x="441.9" y="768.5" font-size="15.3" text-anchor="middle" fill="#4d4d4d" font-weight="normal">-0.6</text>
<path d="M503.4 748.5 V753.5" stroke="#222" stroke-width="1.5"/>
<text x="503.4" y="768.5" font-size="15.3" text-anchor="middle" fill="#4d4d4d" font-weight="normal">-0.3</text>
<path d="M564.9 748.5 V753.5" stroke="#222" stroke-width="1.5"/>
<text x="564.9" y="768.5" font-size="15.3" text-anchor="middle" fill="#4d4d4d" font-weight="normal">0.0</text>
<path d="M626.4 748.5 V753.5" stroke="#222" stroke-width="1.5"/>
<text x="626.4" y="768.5" font-size="15.3" text-anchor="middle" fill="#4d4d4d" font-weight="normal">0.3</text>
<text x="441.6" y="519.0" font-size="18.2" text-anchor="start" fill="#000" font-weight="normal">GTDs</text>
<text x="557.0" y="790.2" font-size="19.7" text-anchor="middle" fill="#000" font-weight="normal">Axis.1 &#160;&#160;[24%]</text>
<text x="376.3" y="624.6" font-size="19.7" text-anchor="middle" fill="#000" font-weight="normal" transform="rotate(-90 376.3 624.6)">Axis.2 &#160;&#160;[16.9%]</text>
<g clip-path="url(#c4)">
<ellipse cx="562.3" cy="631.3" rx="92.9" ry="113.6" transform="rotate(98.1 562.3 631.3)" fill="none" stroke="#e6766d" stroke-width="1.5"/>
<ellipse cx="577.8" cy="632.5" rx="75.3" ry="105.8" transform="rotate(159.2 577.8 632.5)" fill="none" stroke="#851818" stroke-width="1.5"/>
</g>
<path d="M117.6 364.7 V426.2 H156.0" fill="none" stroke="#1a1a1a" stroke-width="1.1"/>
<path d="M114.6 376.3 H117.6" stroke="#333" stroke-width="1.1"/>
<text x="112.0" y="379.83" font-size="9.8" text-anchor="end" fill="#4d4d4d" font-weight="normal">150</text>
<path d="M114.6 392 H117.6" stroke="#333" stroke-width="1.1"/>
<text x="112.0" y="395.53" font-size="9.8" text-anchor="end" fill="#4d4d4d" font-weight="normal">100</text>
<path d="M114.6 407.4 H117.6" stroke="#333" stroke-width="1.1"/>
<text x="112.0" y="410.93" font-size="9.8" text-anchor="end" fill="#4d4d4d" font-weight="normal">50</text>
<path d="M114.6 423.2 H117.6" stroke="#333" stroke-width="1.1"/>
<text x="112.0" y="426.73" font-size="9.8" text-anchor="end" fill="#4d4d4d" font-weight="normal">0</text>
<text x="89.8" y="395.2" font-size="12.8" text-anchor="middle" fill="#111" font-weight="normal" transform="rotate(-90 89.8 395.2)">Richness</text>
<path d="M128.2 390.6 V399.1 M128.2 407.5 V415.4" stroke="#333" stroke-width="1.2"/>
<rect x="121.4" y="399.1" width="13.599999999999994" height="8.399999999999977" fill="#8fd8c0" stroke="#333" stroke-width="1.2"/>
<path d="M121.4 404.0 H135.0" stroke="#333" stroke-width="2.1"/>
<circle cx="128.2" cy="376.5" r="2.7" fill="#333"/>
<circle cx="128.2" cy="378.9" r="2.7" fill="#333"/>
<circle cx="128.2" cy="381.2" r="2.7" fill="#333"/>
<circle cx="128.2" cy="383.6" r="2.7" fill="#333"/>
<circle cx="128.2" cy="385.9" r="2.7" fill="#333"/>
<circle cx="128.2" cy="423.2" r="2.7" fill="#333"/>
<path d="M145.95 391.0 V400.1 M145.95 407.5 V415.8" stroke="#333" stroke-width="1.2"/>
<rect x="139.1" y="400.1" width="13.700000000000017" height="7.399999999999977" fill="#2e7a61" stroke="#333" stroke-width="1.2"/>
<path d="M139.1 404.8 H152.8" stroke="#333" stroke-width="2.1"/>
<circle cx="145.95" cy="367.5" r="2.7" fill="#333"/>
<circle cx="145.95" cy="373.7" r="2.7" fill="#333"/>
<circle cx="145.95" cy="382.0" r="2.7" fill="#333"/>
<circle cx="145.95" cy="384.0" r="2.7" fill="#333"/>
<circle cx="145.95" cy="386.0" r="2.7" fill="#333"/>
<circle cx="145.95" cy="421.3" r="2.7" fill="#333"/>
<path d="M204.3 364.1 V426.0 H245.5" fill="none" stroke="#1a1a1a" stroke-width="1.1"/>
<path d="M201.3 365.3 H204.3" stroke="#333" stroke-width="1.1"/>
<text x="198.70000000000002" y="368.83" font-size="9.8" text-anchor="end" fill="#4d4d4d" font-weight="normal">1.2</text>
<path d="M201.3 376.5 H204.3" stroke="#333" stroke-width="1.1"/>
<text x="198.70000000000002" y="380.03" font-size="9.8" text-anchor="end" fill="#4d4d4d" font-weight="normal">1.0</text>
<path d="M201.3 388.3 H204.3" stroke="#333" stroke-width="1.1"/>
<text x="198.70000000000002" y="391.83" font-size="9.8" text-anchor="end" fill="#4d4d4d" font-weight="normal">0.8</text>
<path d="M201.3 399.8 H204.3" stroke="#333" stroke-width="1.1"/>
<text x="198.70000000000002" y="403.33" font-size="9.8" text-anchor="end" fill="#4d4d4d" font-weight="normal">0.5</text>
<path d="M201.3 411.6 H204.3" stroke="#333" stroke-width="1.1"/>
<text x="198.70000000000002" y="415.13" font-size="9.8" text-anchor="end" fill="#4d4d4d" font-weight="normal">0.2</text>
<path d="M201.3 423.4 H204.3" stroke="#333" stroke-width="1.1"/>
<text x="198.70000000000002" y="426.93" font-size="9.8" text-anchor="end" fill="#4d4d4d" font-weight="normal">0.0</text>
<text x="180.0" y="395" font-size="12.8" text-anchor="middle" fill="#111" font-weight="normal" transform="rotate(-90 180.0 395)">Evenness</text>
<path d="M215.25 394.4 V399.4 M215.25 406.3 V413.2" stroke="#333" stroke-width="1.2"/>
<rect x="207.9" y="399.4" width="14.699999999999989" height="6.900000000000034" fill="#8fd8c0" stroke="#333" stroke-width="1.2"/>
<path d="M207.9 402.7 H222.6" stroke="#333" stroke-width="2.1"/>
<circle cx="215.25" cy="417.8" r="2.7" fill="#333"/>
<circle cx="215.25" cy="421.5" r="2.7" fill="#333"/>
<circle cx="215.25" cy="423.3" r="2.7" fill="#333"/>
<path d="M234.2 394.4 V399.9 M234.2 405.4 V410.0" stroke="#333" stroke-width="1.2"/>
<rect x="226.7" y="399.9" width="15.0" height="5.5" fill="#2e7a61" stroke="#333" stroke-width="1.2"/>
<path d="M226.7 402.7 H241.7" stroke="#333" stroke-width="2.1"/>
<circle cx="234.2" cy="376.5" r="2.7" fill="#333"/>
<circle cx="234.2" cy="384.6" r="2.7" fill="#333"/>
<circle cx="234.2" cy="413.2" r="2.7" fill="#333"/>
<circle cx="234.2" cy="415.0" r="2.7" fill="#333"/>
<circle cx="234.2" cy="419.2" r="2.7" fill="#333"/>
<path d="M293.6 364.1 V426.0 H334.4" fill="none" stroke="#1a1a1a" stroke-width="1.1"/>
<path d="M290.6 365.3 H293.6" stroke="#333" stroke-width="1.1"/>
<text x="288.0" y="368.83" font-size="9.8" text-anchor="end" fill="#4d4d4d" font-weight="normal">1.2</text>
<path d="M290.6 376.5 H293.6" stroke="#333" stroke-width="1.1"/>
<text x="288.0" y="380.03" font-size="9.8" text-anchor="end" fill="#4d4d4d" font-weight="normal">1.0</text>
<path d="M290.6 388.3 H293.6" stroke="#333" stroke-width="1.1"/>
<text x="288.0" y="391.83" font-size="9.8" text-anchor="end" fill="#4d4d4d" font-weight="normal">0.8</text>
<path d="M290.6 399.8 H293.6" stroke="#333" stroke-width="1.1"/>
<text x="288.0" y="403.33" font-size="9.8" text-anchor="end" fill="#4d4d4d" font-weight="normal">0.5</text>
<path d="M290.6 411.6 H293.6" stroke="#333" stroke-width="1.1"/>
<text x="288.0" y="415.13" font-size="9.8" text-anchor="end" fill="#4d4d4d" font-weight="normal">0.2</text>
<path d="M290.6 423.4 H293.6" stroke="#333" stroke-width="1.1"/>
<text x="288.0" y="426.93" font-size="9.8" text-anchor="end" fill="#4d4d4d" font-weight="normal">0.0</text>
<text x="267.5" y="394" font-size="12.8" text-anchor="middle" fill="#111" font-weight="normal" transform="rotate(-90 267.5 394)">Simpson</text>
<path d="M304.5 376.3 V384.6 M304.5 394.7 V403.2" stroke="#333" stroke-width="1.2"/>
<rect x="297.3" y="384.6" width="14.399999999999977" height="10.099999999999966" fill="#8fd8c0" stroke="#333" stroke-width="1.2"/>
<path d="M297.3 388.0 H311.7" stroke="#333" stroke-width="2.1"/>
<circle cx="304.5" cy="409.4" r="2.7" fill="#333"/>
<circle cx="304.5" cy="417.1" r="2.7" fill="#333"/>
<path d="M323.65 382.0 V385.3 M323.65 393.8 V401.3" stroke="#333" stroke-width="1.2"/>
<rect x="316.5" y="385.3" width="14.300000000000011" height="8.5" fill="#2e7a61" stroke="#333" stroke-width="1.2"/>
<path d="M316.5 387.1 H330.8" stroke="#333" stroke-width="2.1"/>
<circle cx="323.65" cy="405.0" r="2.7" fill="#333"/>
<circle cx="323.65" cy="407.5" r="2.7" fill="#333"/>
<circle cx="323.65" cy="410.0" r="2.7" fill="#333"/>
<circle cx="323.65" cy="412.0" r="2.7" fill="#333"/>
<circle cx="323.65" cy="419.2" r="2.7" fill="#333"/>
<path d="M458.5 364.9 V426.4 H502.2" fill="none" stroke="#1a1a1a" stroke-width="1.1"/>
<path d="M455.5 385.5 H458.5" stroke="#333" stroke-width="1.1"/>
<text x="452.9" y="389.03" font-size="9.8" text-anchor="end" fill="#4d4d4d" font-weight="normal">10</text>
<path d="M455.5 409.3 H458.5" stroke="#333" stroke-width="1.1"/>
<text x="452.9" y="412.83" font-size="9.8" text-anchor="end" fill="#4d4d4d" font-weight="normal">5</text>
<text x="435" y="395.5" font-size="12.8" text-anchor="middle" fill="#111" font-weight="normal" transform="rotate(-90 435 395.5)">Richness</text>
<path d="M470.5 371.8 V385.9 M470.5 399.7 V414.2" stroke="#333" stroke-width="1.2"/>
<rect x="462.6" y="385.9" width="15.799999999999955" height="13.800000000000011" fill="#8fd8c0" stroke="#333" stroke-width="1.2"/>
<path d="M462.6 390.6 H478.4" stroke="#333" stroke-width="2.1"/>
<path d="M490.55 371.8 V390.6 M490.55 404.6 V423.2" stroke="#333" stroke-width="1.2"/>
<rect x="482.6" y="390.6" width="15.899999999999977" height="14.0" fill="#2e7a61" stroke="#333" stroke-width="1.2"/>
<path d="M482.6 395.2 H498.5" stroke="#333" stroke-width="2.1"/>
<circle cx="490.55" cy="367.2" r="2.7" fill="#333"/>
<path d="M550.4 364.4 V426.0 H591.7" fill="none" stroke="#1a1a1a" stroke-width="1.1"/>
<path d="M547.4 365.3 H550.4" stroke="#333" stroke-width="1.1"/>
<text x="544.8" y="368.83" font-size="9.8" text-anchor="end" fill="#4d4d4d" font-weight="normal">1.2</text>
<path d="M547.4 376.5 H550.4" stroke="#333" stroke-width="1.1"/>
<text x="544.8" y="380.03" font-size="9.8" text-anchor="end" fill="#4d4d4d" font-weight="normal">1.0</text>
<path d="M547.4 388.3 H550.4" stroke="#333" stroke-width="1.1"/>
<text x="544.8" y="391.83" font-size="9.8" text-anchor="end" fill="#4d4d4d" font-weight="normal">0.8</text>
<path d="M547.4 399.8 H550.4" stroke="#333" stroke-width="1.1"/>
<text x="544.8" y="403.33" font-size="9.8" text-anchor="end" fill="#4d4d4d" font-weight="normal">0.5</text>
<path d="M547.4 411.6 H550.4" stroke="#333" stroke-width="1.1"/>
<text x="544.8" y="415.13" font-size="9.8" text-anchor="end" fill="#4d4d4d" font-weight="normal">0.2</text>
<path d="M547.4 423.4 H550.4" stroke="#333" stroke-width="1.1"/>
<text x="544.8" y="426.93" font-size="9.8" text-anchor="end" fill="#4d4d4d" font-weight="normal">0.0</text>
<text x="524.5" y="395" font-size="12.8" text-anchor="middle" fill="#111" font-weight="normal" transform="rotate(-90 524.5 395)">Evenness</text>
<path d="M561.8 382.0 V387.4 M561.8 394.7 V400.4" stroke="#333" stroke-width="1.2"/>
<rect x="554.3" y="387.4" width="15.0" height="7.300000000000011" fill="#8fd8c0" stroke="#333" stroke-width="1.2"/>
<path d="M554.3 390.3 H569.3" stroke="#333" stroke-width="2.1"/>
<path d="M580.55 380.2 V386.8 M580.55 393.8 V400.4" stroke="#333" stroke-width="1.2"/>
<rect x="573.2" y="386.8" width="14.699999999999932" height="7.0" fill="#2e7a61" stroke="#333" stroke-width="1.2"/>
<path d="M573.2 390.8 H587.9" stroke="#333" stroke-width="2.1"/>
<circle cx="580.55" cy="376.5" r="2.7" fill="#333"/>
<circle cx="580.55" cy="406.8" r="2.7" fill="#333"/>
<path d="M639.6 364.4 V426.0 H680.9" fill="none" stroke="#1a1a1a" stroke-width="1.1"/>
<path d="M636.6 365.3 H639.6" stroke="#333" stroke-width="1.1"/>
<text x="634.0" y="368.83" font-size="9.8" text-anchor="end" fill="#4d4d4d" font-weight="normal">1.2</text>
<path d="M636.6 376.5 H639.6" stroke="#333" stroke-width="1.1"/>
<text x="634.0" y="380.03" font-size="9.8" text-anchor="end" fill="#4d4d4d" font-weight="normal">1.0</text>
<path d="M636.6 388.3 H639.6" stroke="#333" stroke-width="1.1"/>
<text x="634.0" y="391.83" font-size="9.8" text-anchor="end" fill="#4d4d4d" font-weight="normal">0.8</text>
<path d="M636.6 399.8 H639.6" stroke="#333" stroke-width="1.1"/>
<text x="634.0" y="403.33" font-size="9.8" text-anchor="end" fill="#4d4d4d" font-weight="normal">0.5</text>
<path d="M636.6 411.6 H639.6" stroke="#333" stroke-width="1.1"/>
<text x="634.0" y="415.13" font-size="9.8" text-anchor="end" fill="#4d4d4d" font-weight="normal">0.2</text>
<path d="M636.6 423.4 H639.6" stroke="#333" stroke-width="1.1"/>
<text x="634.0" y="426.93" font-size="9.8" text-anchor="end" fill="#4d4d4d" font-weight="normal">0.0</text>
<text x="613.5" y="395" font-size="12.8" text-anchor="middle" fill="#111" font-weight="normal" transform="rotate(-90 613.5 395)">Simpson</text>
<path d="M650.75 384.0 V387.2 M650.75 395.8 V402.2" stroke="#333" stroke-width="1.2"/>
<rect x="643.5" y="387.2" width="14.5" height="8.600000000000023" fill="#8fd8c0" stroke="#333" stroke-width="1.2"/>
<path d="M643.5 390.3 H658.0" stroke="#333" stroke-width="2.1"/>
<path d="M670.0 384.8 V389.4 M670.0 395.1 V403.2" stroke="#333" stroke-width="1.2"/>
<rect x="662.3" y="389.4" width="15.400000000000091" height="5.7000000000000455" fill="#2e7a61" stroke="#333" stroke-width="1.2"/>
<path d="M662.3 391.7 H677.7" stroke="#333" stroke-width="2.1"/>
<circle cx="670.0" cy="405.0" r="2.7" fill="#333"/>
<circle cx="670.0" cy="406.4" r="2.7" fill="#333"/>
<circle cx="670.0" cy="411.0" r="2.7" fill="#333"/>
<circle cx="670.0" cy="411.9" r="2.7" fill="#333"/>
<path d="M126.4 812.4 V873.9 H162.2" fill="none" stroke="#1a1a1a" stroke-width="1.1"/>
<path d="M123.4 822.9 H126.4" stroke="#333" stroke-width="1.1"/>
<text x="120.80000000000001" y="826.43" font-size="9.8" text-anchor="end" fill="#4d4d4d" font-weight="normal">150</text>
<path d="M123.4 839.3 H126.4" stroke="#333" stroke-width="1.1"/>
<text x="120.80000000000001" y="842.83" font-size="9.8" text-anchor="end" fill="#4d4d4d" font-weight="normal">100</text>
<path d="M123.4 855.5 H126.4" stroke="#333" stroke-width="1.1"/>
<text x="120.80000000000001" y="859.03" font-size="9.8" text-anchor="end" fill="#4d4d4d" font-weight="normal">50</text>
<path d="M123.4 871.5 H126.4" stroke="#333" stroke-width="1.1"/>
<text x="120.80000000000001" y="875.03" font-size="9.8" text-anchor="end" fill="#4d4d4d" font-weight="normal">0</text>
<text x="98.8" y="842.5" font-size="12.8" text-anchor="middle" fill="#111" font-weight="normal" transform="rotate(-90 98.8 842.5)">Richness</text>
<path d="M136.2 832.1 V843.6 M136.2 855.5 V870.5" stroke="#333" stroke-width="1.2"/>
<rect x="129.8" y="843.6" width="12.799999999999983" height="11.899999999999977" fill="#f08080" stroke="#333" stroke-width="1.2"/>
<path d="M129.8 849.6 H142.6" stroke="#333" stroke-width="2.1"/>
<circle cx="136.2" cy="822.5" r="2.7" fill="#333"/>
<path d="M152.64999999999998 827.7 V843.6 M152.64999999999998 854.8 V869.6" stroke="#333" stroke-width="1.2"/>
<rect x="146.2" y="843.6" width="12.900000000000006" height="11.199999999999932" fill="#8b0000" stroke="#333" stroke-width="1.2"/>
<path d="M146.2 848.8 H159.1" stroke="#333" stroke-width="2.1"/>
<circle cx="152.64999999999998" cy="814.7" r="2.7" fill="#333"/>
<path d="M210.0 812.4 V873.3 H247.8" fill="none" stroke="#1a1a1a" stroke-width="1.1"/>
<path d="M207.0 813.8 H210.0" stroke="#333" stroke-width="1.1"/>
<text x="204.4" y="817.33" font-size="9.8" text-anchor="end" fill="#4d4d4d" font-weight="normal">1.0</text>
<path d="M207.0 829.3 H210.0" stroke="#333" stroke-width="1.1"/>
<text x="204.4" y="832.83" font-size="9.8" text-anchor="end" fill="#4d4d4d" font-weight="normal">0.8</text>
<path d="M207.0 844.2 H210.0" stroke="#333" stroke-width="1.1"/>
<text x="204.4" y="847.73" font-size="9.8" text-anchor="end" fill="#4d4d4d" font-weight="normal">0.5</text>
<path d="M207.0 858.9 H210.0" stroke="#333" stroke-width="1.1"/>
<text x="204.4" y="862.43" font-size="9.8" text-anchor="end" fill="#4d4d4d" font-weight="normal">0.2</text>
<path d="M207.0 872.9 H210.0" stroke="#333" stroke-width="1.1"/>
<text x="204.4" y="876.43" font-size="9.8" text-anchor="end" fill="#4d4d4d" font-weight="normal">0.0</text>
<text x="184" y="842.5" font-size="12.8" text-anchor="middle" fill="#111" font-weight="normal" transform="rotate(-90 184 842.5)">Evenness</text>
<path d="M221.0 836.1 V841.6 M221.0 855.6 V870.5" stroke="#333" stroke-width="1.2"/>
<rect x="214.3" y="841.6" width="13.399999999999977" height="14.0" fill="#f08080" stroke="#333" stroke-width="1.2"/>
<path d="M214.3 847.9 H227.7" stroke="#333" stroke-width="2.1"/>
<path d="M238.15 835.6 V845.5 M238.15 857.4 V870.5" stroke="#333" stroke-width="1.2"/>
<rect x="231.3" y="845.5" width="13.699999999999989" height="11.899999999999977" fill="#8b0000" stroke="#333" stroke-width="1.2"/>
<path d="M231.3 851.4 H245.0" stroke="#333" stroke-width="2.1"/>
<circle cx="238.15" cy="813.8" r="2.7" fill="#333"/>
<circle cx="238.15" cy="817.3" r="2.7" fill="#333"/>
<circle cx="238.15" cy="820.8" r="2.7" fill="#333"/>
<circle cx="238.15" cy="823.8" r="2.7" fill="#333"/>
<circle cx="238.15" cy="826.0" r="2.7" fill="#333"/>
<path d="M296.2 812.4 V873.3 H334.5" fill="none" stroke="#1a1a1a" stroke-width="1.1"/>
<path d="M293.2 823.6 H296.2" stroke="#333" stroke-width="1.1"/>
<text x="290.59999999999997" y="827.13" font-size="9.8" text-anchor="end" fill="#4d4d4d" font-weight="normal">0.8</text>
<path d="M293.2 839.2 H296.2" stroke="#333" stroke-width="1.1"/>
<text x="290.59999999999997" y="842.73" font-size="9.8" text-anchor="end" fill="#4d4d4d" font-weight="normal">0.5</text>
<path d="M293.2 855.1 H296.2" stroke="#333" stroke-width="1.1"/>
<text x="290.59999999999997" y="858.63" font-size="9.8" text-anchor="end" fill="#4d4d4d" font-weight="normal">0.2</text>
<path d="M293.2 870.7 H296.2" stroke="#333" stroke-width="1.1"/>
<text x="290.59999999999997" y="874.23" font-size="9.8" text-anchor="end" fill="#4d4d4d" font-weight="normal">0.0</text>
<text x="270.5" y="843" font-size="12.8" text-anchor="middle" fill="#111" font-weight="normal" transform="rotate(-90 270.5 843)">Simpson</text>
<path d="M306.79999999999995 815.1 V819.2 M306.79999999999995 838.5 V866" stroke="#333" stroke-width="1.2"/>
<rect x="300.2" y="819.2" width="13.199999999999989" height="19.299999999999955" fill="#f08080" stroke="#333" stroke-width="1.2"/>
<path d="M300.2 826.5 H313.4" stroke="#333" stroke-width="2.1"/>
<circle cx="306.79999999999995" cy="866.0" r="2.7" fill="#333"/>
<circle cx="306.79999999999995" cy="868.0" r="2.7" fill="#333"/>
<circle cx="306.79999999999995" cy="870.0" r="2.7" fill="#333"/>
<circle cx="306.79999999999995" cy="872.0" r="2.7" fill="#333"/>
<path d="M324.1 815.3 V821.2 M324.1 842.7 V867.6" stroke="#333" stroke-width="1.2"/>
<rect x="317.2" y="821.2" width="13.800000000000011" height="21.5" fill="#8b0000" stroke="#333" stroke-width="1.2"/>
<path d="M317.2 829.7 H331.0" stroke="#333" stroke-width="2.1"/>
<path d="M467.5 812.4 V873.9 H508.5" fill="none" stroke="#1a1a1a" stroke-width="1.1"/>
<path d="M464.5 821.7 H467.5" stroke="#333" stroke-width="1.1"/>
<text x="461.9" y="825.23" font-size="9.8" text-anchor="end" fill="#4d4d4d" font-weight="normal">15</text>
<path d="M464.5 839.3 H467.5" stroke="#333" stroke-width="1.1"/>
<text x="461.9" y="842.83" font-size="9.8" text-anchor="end" fill="#4d4d4d" font-weight="normal">10</text>
<path d="M464.5 856.8 H467.5" stroke="#333" stroke-width="1.1"/>
<text x="461.9" y="860.33" font-size="9.8" text-anchor="end" fill="#4d4d4d" font-weight="normal">5</text>
<text x="445" y="842.5" font-size="12.8" text-anchor="middle" fill="#111" font-weight="normal" transform="rotate(-90 445 842.5)">Richness</text>
<path d="M478.45 825.2 V839.3 M478.45 852.6 V860.1" stroke="#333" stroke-width="1.2"/>
<rect x="471.4" y="839.3" width="14.100000000000023" height="13.300000000000068" fill="#f08080" stroke="#333" stroke-width="1.2"/>
<path d="M471.4 846.2 H485.5" stroke="#333" stroke-width="2.1"/>
<path d="M497.04999999999995 829.0 V839.3 M497.04999999999995 853.4 V870.7" stroke="#333" stroke-width="1.2"/>
<rect x="489.9" y="839.3" width="14.300000000000011" height="14.100000000000023" fill="#8b0000" stroke="#333" stroke-width="1.2"/>
<path d="M489.9 846.2 H504.2" stroke="#333" stroke-width="2.1"/>
<circle cx="497.04999999999995" cy="814.7" r="2.7" fill="#333"/>
<path d="M556.3 812.4 V873.3 H594.5" fill="none" stroke="#1a1a1a" stroke-width="1.1"/>
<path d="M553.3 812.4 H556.3" stroke="#333" stroke-width="1.1"/>
<text x="550.6999999999999" y="815.93" font-size="9.8" text-anchor="end" fill="#4d4d4d" font-weight="normal">1.2</text>
<path d="M553.3 823.8 H556.3" stroke="#333" stroke-width="1.1"/>
<text x="550.6999999999999" y="827.33" font-size="9.8" text-anchor="end" fill="#4d4d4d" font-weight="normal">1.0</text>
<path d="M553.3 835.6 H556.3" stroke="#333" stroke-width="1.1"/>
<text x="550.6999999999999" y="839.13" font-size="9.8" text-anchor="end" fill="#4d4d4d" font-weight="normal">0.8</text>
<path d="M553.3 847.5 H556.3" stroke="#333" stroke-width="1.1"/>
<text x="550.6999999999999" y="851.03" font-size="9.8" text-anchor="end" fill="#4d4d4d" font-weight="normal">0.5</text>
<path d="M553.3 859.3 H556.3" stroke="#333" stroke-width="1.1"/>
<text x="550.6999999999999" y="862.83" font-size="9.8" text-anchor="end" fill="#4d4d4d" font-weight="normal">0.2</text>
<path d="M553.3 870.8 H556.3" stroke="#333" stroke-width="1.1"/>
<text x="550.6999999999999" y="874.33" font-size="9.8" text-anchor="end" fill="#4d4d4d" font-weight="normal">0.0</text>
<text x="530.5" y="842.5" font-size="12.8" text-anchor="middle" fill="#111" font-weight="normal" transform="rotate(-90 530.5 842.5)">Evenness</text>
<path d="M567.05 827.1 V832.6 M567.05 839.3 V845.7" stroke="#333" stroke-width="1.2"/>
<rect x="560.3" y="832.6" width="13.5" height="6.699999999999932" fill="#f08080" stroke="#333" stroke-width="1.2"/>
<path d="M560.3 836.1 H573.8" stroke="#333" stroke-width="2.1"/>
<circle cx="567.05" cy="849.7" r="2.7" fill="#333"/>
<circle cx="567.05" cy="852.0" r="2.7" fill="#333"/>
<circle cx="567.05" cy="854.5" r="2.7" fill="#333"/>
<circle cx="567.05" cy="856.7" r="2.7" fill="#333"/>
<path d="M584.15 823.8 V828.6 M584.15 837.8 V847.5" stroke="#333" stroke-width="1.2"/>
<rect x="577.3" y="828.6" width="13.700000000000045" height="9.199999999999932" fill="#8b0000" stroke="#333" stroke-width="1.2"/>
<path d="M577.3 833.2 H591.0" stroke="#333" stroke-width="2.1"/>
<path d="M642.6 811.6 V873.3 H680.5" fill="none" stroke="#1a1a1a" stroke-width="1.1"/>
<path d="M639.6 812.4 H642.6" stroke="#333" stroke-width="1.1"/>
<text x="637.0" y="815.93" font-size="9.8" text-anchor="end" fill="#4d4d4d" font-weight="normal">1.2</text>
<path d="M639.6 823.8 H642.6" stroke="#333" stroke-width="1.1"/>
<text x="637.0" y="827.33" font-size="9.8" text-anchor="end" fill="#4d4d4d" font-weight="normal">1.0</text>
<path d="M639.6 835.6 H642.6" stroke="#333" stroke-width="1.1"/>
<text x="637.0" y="839.13" font-size="9.8" text-anchor="end" fill="#4d4d4d" font-weight="normal">0.8</text>
<path d="M639.6 847.5 H642.6" stroke="#333" stroke-width="1.1"/>
<text x="637.0" y="851.03" font-size="9.8" text-anchor="end" fill="#4d4d4d" font-weight="normal">0.5</text>
<path d="M639.6 859.3 H642.6" stroke="#333" stroke-width="1.1"/>
<text x="637.0" y="862.83" font-size="9.8" text-anchor="end" fill="#4d4d4d" font-weight="normal">0.2</text>
<path d="M639.6 870.8 H642.6" stroke="#333" stroke-width="1.1"/>
<text x="637.0" y="874.33" font-size="9.8" text-anchor="end" fill="#4d4d4d" font-weight="normal">0.0</text>
<text x="617" y="843" font-size="12.8" text-anchor="middle" fill="#111" font-weight="normal" transform="rotate(-90 617 843)">Simpson</text>
<path d="M653.05 831.3 V835.0 M653.05 841.1 V848.8" stroke="#333" stroke-width="1.2"/>
<rect x="646.3" y="835.0" width="13.5" height="6.100000000000023" fill="#f08080" stroke="#333" stroke-width="1.2"/>
<path d="M646.3 837.6 H659.8" stroke="#333" stroke-width="2.1"/>
<circle cx="653.05" cy="851.4" r="2.7" fill="#333"/>
<circle cx="653.05" cy="853.2" r="2.7" fill="#333"/>
<circle cx="653.05" cy="856.7" r="2.7" fill="#333"/>
<circle cx="653.05" cy="858.4" r="2.7" fill="#333"/>
<circle cx="653.05" cy="860.6" r="2.7" fill="#333"/>
<path d="M670.4000000000001 830.4 V833.5 M670.4000000000001 840.5 V848.8" stroke="#333" stroke-width="1.2"/>
<rect x="663.6" y="833.5" width="13.600000000000023" height="7.0" fill="#8b0000" stroke="#333" stroke-width="1.2"/>
<path d="M663.6 838.1 H677.2" stroke="#333" stroke-width="2.1"/>
<circle cx="670.4000000000001" cy="851.0" r="2.7" fill="#333"/>
<circle cx="670.4000000000001" cy="855.3" r="2.7" fill="#333"/>
<circle cx="670.4000000000001" cy="870.7" r="2.7" fill="#333"/>
</svg></body></html>
